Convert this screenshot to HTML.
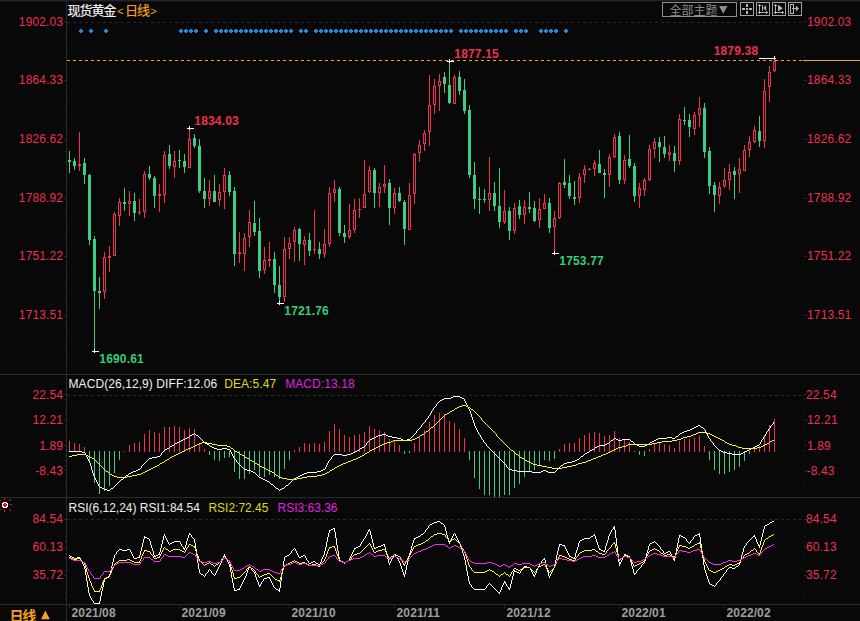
<!DOCTYPE html><html><head><meta charset="utf-8"><title>chart</title><style>html,body{margin:0;padding:0;background:#080808;overflow:hidden}body{width:860px;height:621px;font-family:"Liberation Sans",sans-serif}</style></head><body><svg width="860" height="621" viewBox="0 0 860 621" style="display:block"><rect width="860" height="621" fill="#080808"/><rect x="0" y="0" width="860" height="1" fill="#22242a"/><rect x="0" y="1" width="860" height="1" fill="#101114"/><g shape-rendering="crispEdges"><rect x="0" y="374" width="860" height="1" fill="#2a2a2a"/><rect x="0" y="497" width="860" height="1" fill="#2a2a2a"/><rect x="0" y="604" width="860" height="1" fill="#2a2a2a"/><rect x="66" y="1" width="1" height="620" fill="#2a2a2a"/><line x1="67" y1="22.5" x2="803" y2="22.5" stroke="#292929" stroke-width="1" stroke-dasharray="3 3"/><line x1="67" y1="395.5" x2="803" y2="395.5" stroke="#292929" stroke-width="1" stroke-dasharray="3 3"/><line x1="67" y1="519.5" x2="803" y2="519.5" stroke="#292929" stroke-width="1" stroke-dasharray="3 3"/><rect x="64" y="21" width="2" height="1" fill="#2a2a2a"/><rect x="804" y="21" width="3" height="1" fill="#2a2a2a"/><rect x="65" y="33" width="1" height="1" fill="#2a2a2a"/><rect x="804" y="33" width="1" height="1" fill="#2a2a2a"/><rect x="65" y="45" width="1" height="1" fill="#2a2a2a"/><rect x="804" y="45" width="1" height="1" fill="#2a2a2a"/><rect x="65" y="57" width="1" height="1" fill="#2a2a2a"/><rect x="804" y="57" width="1" height="1" fill="#2a2a2a"/><rect x="65" y="68" width="1" height="1" fill="#2a2a2a"/><rect x="804" y="68" width="1" height="1" fill="#2a2a2a"/><rect x="64" y="80" width="2" height="1" fill="#2a2a2a"/><rect x="804" y="80" width="3" height="1" fill="#2a2a2a"/><rect x="65" y="92" width="1" height="1" fill="#2a2a2a"/><rect x="804" y="92" width="1" height="1" fill="#2a2a2a"/><rect x="65" y="104" width="1" height="1" fill="#2a2a2a"/><rect x="804" y="104" width="1" height="1" fill="#2a2a2a"/><rect x="65" y="115" width="1" height="1" fill="#2a2a2a"/><rect x="804" y="115" width="1" height="1" fill="#2a2a2a"/><rect x="65" y="127" width="1" height="1" fill="#2a2a2a"/><rect x="804" y="127" width="1" height="1" fill="#2a2a2a"/><rect x="64" y="139" width="2" height="1" fill="#2a2a2a"/><rect x="804" y="139" width="3" height="1" fill="#2a2a2a"/><rect x="65" y="151" width="1" height="1" fill="#2a2a2a"/><rect x="804" y="151" width="1" height="1" fill="#2a2a2a"/><rect x="65" y="162" width="1" height="1" fill="#2a2a2a"/><rect x="804" y="162" width="1" height="1" fill="#2a2a2a"/><rect x="65" y="174" width="1" height="1" fill="#2a2a2a"/><rect x="804" y="174" width="1" height="1" fill="#2a2a2a"/><rect x="65" y="186" width="1" height="1" fill="#2a2a2a"/><rect x="804" y="186" width="1" height="1" fill="#2a2a2a"/><rect x="64" y="198" width="2" height="1" fill="#2a2a2a"/><rect x="804" y="198" width="3" height="1" fill="#2a2a2a"/><rect x="65" y="209" width="1" height="1" fill="#2a2a2a"/><rect x="804" y="209" width="1" height="1" fill="#2a2a2a"/><rect x="65" y="221" width="1" height="1" fill="#2a2a2a"/><rect x="804" y="221" width="1" height="1" fill="#2a2a2a"/><rect x="65" y="233" width="1" height="1" fill="#2a2a2a"/><rect x="804" y="233" width="1" height="1" fill="#2a2a2a"/><rect x="65" y="245" width="1" height="1" fill="#2a2a2a"/><rect x="804" y="245" width="1" height="1" fill="#2a2a2a"/><rect x="64" y="256" width="2" height="1" fill="#2a2a2a"/><rect x="804" y="256" width="3" height="1" fill="#2a2a2a"/><rect x="65" y="268" width="1" height="1" fill="#2a2a2a"/><rect x="804" y="268" width="1" height="1" fill="#2a2a2a"/><rect x="65" y="280" width="1" height="1" fill="#2a2a2a"/><rect x="804" y="280" width="1" height="1" fill="#2a2a2a"/><rect x="65" y="292" width="1" height="1" fill="#2a2a2a"/><rect x="804" y="292" width="1" height="1" fill="#2a2a2a"/><rect x="65" y="303" width="1" height="1" fill="#2a2a2a"/><rect x="804" y="303" width="1" height="1" fill="#2a2a2a"/><rect x="64" y="315" width="2" height="1" fill="#2a2a2a"/><rect x="804" y="315" width="3" height="1" fill="#2a2a2a"/><rect x="65" y="327" width="1" height="1" fill="#2a2a2a"/><rect x="804" y="327" width="1" height="1" fill="#2a2a2a"/><rect x="65" y="339" width="1" height="1" fill="#2a2a2a"/><rect x="804" y="339" width="1" height="1" fill="#2a2a2a"/><rect x="65" y="350" width="1" height="1" fill="#2a2a2a"/><rect x="804" y="350" width="1" height="1" fill="#2a2a2a"/><rect x="65" y="362" width="1" height="1" fill="#2a2a2a"/><rect x="804" y="362" width="1" height="1" fill="#2a2a2a"/><rect x="64" y="394" width="2" height="1" fill="#2a2a2a"/><rect x="804" y="394" width="3" height="1" fill="#2a2a2a"/><rect x="65" y="399" width="1" height="1" fill="#2a2a2a"/><rect x="804" y="399" width="1" height="1" fill="#2a2a2a"/><rect x="65" y="404" width="1" height="1" fill="#2a2a2a"/><rect x="804" y="404" width="1" height="1" fill="#2a2a2a"/><rect x="65" y="409" width="1" height="1" fill="#2a2a2a"/><rect x="804" y="409" width="1" height="1" fill="#2a2a2a"/><rect x="65" y="414" width="1" height="1" fill="#2a2a2a"/><rect x="804" y="414" width="1" height="1" fill="#2a2a2a"/><rect x="64" y="420" width="2" height="1" fill="#2a2a2a"/><rect x="804" y="420" width="3" height="1" fill="#2a2a2a"/><rect x="65" y="425" width="1" height="1" fill="#2a2a2a"/><rect x="804" y="425" width="1" height="1" fill="#2a2a2a"/><rect x="65" y="430" width="1" height="1" fill="#2a2a2a"/><rect x="804" y="430" width="1" height="1" fill="#2a2a2a"/><rect x="65" y="435" width="1" height="1" fill="#2a2a2a"/><rect x="804" y="435" width="1" height="1" fill="#2a2a2a"/><rect x="65" y="440" width="1" height="1" fill="#2a2a2a"/><rect x="804" y="440" width="1" height="1" fill="#2a2a2a"/><rect x="64" y="445" width="2" height="1" fill="#2a2a2a"/><rect x="804" y="445" width="3" height="1" fill="#2a2a2a"/><rect x="65" y="450" width="1" height="1" fill="#2a2a2a"/><rect x="804" y="450" width="1" height="1" fill="#2a2a2a"/><rect x="65" y="455" width="1" height="1" fill="#2a2a2a"/><rect x="804" y="455" width="1" height="1" fill="#2a2a2a"/><rect x="65" y="460" width="1" height="1" fill="#2a2a2a"/><rect x="804" y="460" width="1" height="1" fill="#2a2a2a"/><rect x="65" y="465" width="1" height="1" fill="#2a2a2a"/><rect x="804" y="465" width="1" height="1" fill="#2a2a2a"/><rect x="64" y="470" width="2" height="1" fill="#2a2a2a"/><rect x="804" y="470" width="3" height="1" fill="#2a2a2a"/><rect x="65" y="475" width="1" height="1" fill="#2a2a2a"/><rect x="804" y="475" width="1" height="1" fill="#2a2a2a"/><rect x="65" y="481" width="1" height="1" fill="#2a2a2a"/><rect x="804" y="481" width="1" height="1" fill="#2a2a2a"/><rect x="65" y="486" width="1" height="1" fill="#2a2a2a"/><rect x="804" y="486" width="1" height="1" fill="#2a2a2a"/><rect x="65" y="491" width="1" height="1" fill="#2a2a2a"/><rect x="804" y="491" width="1" height="1" fill="#2a2a2a"/><rect x="64" y="519" width="2" height="1" fill="#2a2a2a"/><rect x="804" y="519" width="3" height="1" fill="#2a2a2a"/><rect x="65" y="524" width="1" height="1" fill="#2a2a2a"/><rect x="804" y="524" width="1" height="1" fill="#2a2a2a"/><rect x="65" y="530" width="1" height="1" fill="#2a2a2a"/><rect x="804" y="530" width="1" height="1" fill="#2a2a2a"/><rect x="65" y="536" width="1" height="1" fill="#2a2a2a"/><rect x="804" y="536" width="1" height="1" fill="#2a2a2a"/><rect x="65" y="541" width="1" height="1" fill="#2a2a2a"/><rect x="804" y="541" width="1" height="1" fill="#2a2a2a"/><rect x="64" y="547" width="2" height="1" fill="#2a2a2a"/><rect x="804" y="547" width="3" height="1" fill="#2a2a2a"/><rect x="65" y="553" width="1" height="1" fill="#2a2a2a"/><rect x="804" y="553" width="1" height="1" fill="#2a2a2a"/><rect x="65" y="558" width="1" height="1" fill="#2a2a2a"/><rect x="804" y="558" width="1" height="1" fill="#2a2a2a"/><rect x="65" y="564" width="1" height="1" fill="#2a2a2a"/><rect x="804" y="564" width="1" height="1" fill="#2a2a2a"/><rect x="65" y="570" width="1" height="1" fill="#2a2a2a"/><rect x="804" y="570" width="1" height="1" fill="#2a2a2a"/><rect x="64" y="575" width="2" height="1" fill="#2a2a2a"/><rect x="804" y="575" width="3" height="1" fill="#2a2a2a"/><rect x="65" y="581" width="1" height="1" fill="#2a2a2a"/><rect x="804" y="581" width="1" height="1" fill="#2a2a2a"/><rect x="65" y="587" width="1" height="1" fill="#2a2a2a"/><rect x="804" y="587" width="1" height="1" fill="#2a2a2a"/><rect x="65" y="592" width="1" height="1" fill="#2a2a2a"/><rect x="804" y="592" width="1" height="1" fill="#2a2a2a"/><rect x="65" y="598" width="1" height="1" fill="#2a2a2a"/><rect x="804" y="598" width="1" height="1" fill="#2a2a2a"/><line x1="67" y1="60.5" x2="803" y2="60.5" stroke="#f5a028" stroke-width="1" stroke-dasharray="3 3"/><rect x="803" y="60" width="57" height="1" fill="#f5a028"/><rect x="69" y="151" width="1" height="22" fill="#3ccd87"/><rect x="68" y="160" width="3" height="2" fill="#3ccd87"/><rect x="74" y="158" width="1" height="12" fill="#3ccd87"/><rect x="73" y="161" width="3" height="5" fill="#3ccd87"/><rect x="79" y="132" width="1" height="32" fill="#f23050"/><rect x="79" y="166" width="1" height="5" fill="#f23050"/><rect x="78" y="164" width="3" height="2" fill="#f23050"/><rect x="84" y="158" width="1" height="26" fill="#3ccd87"/><rect x="83" y="163" width="3" height="12" fill="#3ccd87"/><rect x="89" y="174" width="1" height="71" fill="#3ccd87"/><rect x="88" y="175" width="3" height="65" fill="#3ccd87"/><rect x="94" y="236" width="1" height="115" fill="#3ccd87"/><rect x="93" y="239" width="3" height="52" fill="#3ccd87"/><rect x="99" y="277" width="1" height="32" fill="#3ccd87"/><rect x="98" y="291" width="3" height="2" fill="#3ccd87"/><rect x="104" y="252" width="1" height="5" fill="#f23050"/><rect x="104" y="292" width="1" height="7" fill="#f23050"/><rect x="103" y="257" width="3" height="1" fill="#f23050"/><rect x="103" y="291" width="3" height="1" fill="#f23050"/><rect x="103" y="257" width="1" height="35" fill="#f23050"/><rect x="105" y="257" width="1" height="35" fill="#f23050"/><rect x="109" y="246" width="1" height="10" fill="#f23050"/><rect x="109" y="258" width="1" height="14" fill="#f23050"/><rect x="108" y="256" width="3" height="2" fill="#f23050"/><rect x="114" y="212" width="1" height="2" fill="#f23050"/><rect x="113" y="214" width="3" height="1" fill="#f23050"/><rect x="113" y="255" width="3" height="1" fill="#f23050"/><rect x="113" y="214" width="1" height="42" fill="#f23050"/><rect x="115" y="214" width="1" height="42" fill="#f23050"/><rect x="119" y="198" width="1" height="4" fill="#f23050"/><rect x="119" y="216" width="1" height="10" fill="#f23050"/><rect x="118" y="202" width="3" height="1" fill="#f23050"/><rect x="118" y="215" width="3" height="1" fill="#f23050"/><rect x="118" y="202" width="1" height="14" fill="#f23050"/><rect x="120" y="202" width="1" height="14" fill="#f23050"/><rect x="124" y="188" width="1" height="23" fill="#3ccd87"/><rect x="123" y="202" width="3" height="2" fill="#3ccd87"/><rect x="129" y="191" width="1" height="10" fill="#f23050"/><rect x="129" y="204" width="1" height="12" fill="#f23050"/><rect x="128" y="201" width="3" height="1" fill="#f23050"/><rect x="128" y="203" width="3" height="1" fill="#f23050"/><rect x="128" y="201" width="1" height="3" fill="#f23050"/><rect x="130" y="201" width="1" height="3" fill="#f23050"/><rect x="134" y="193" width="1" height="28" fill="#3ccd87"/><rect x="133" y="201" width="3" height="12" fill="#3ccd87"/><rect x="139" y="199" width="1" height="13" fill="#f23050"/><rect x="139" y="213" width="1" height="2" fill="#f23050"/><rect x="138" y="212" width="3" height="1" fill="#f23050"/><rect x="144" y="171" width="1" height="3" fill="#f23050"/><rect x="144" y="212" width="1" height="6" fill="#f23050"/><rect x="143" y="174" width="3" height="1" fill="#f23050"/><rect x="143" y="211" width="3" height="1" fill="#f23050"/><rect x="143" y="174" width="1" height="38" fill="#f23050"/><rect x="145" y="174" width="1" height="38" fill="#f23050"/><rect x="149" y="166" width="1" height="14" fill="#3ccd87"/><rect x="148" y="174" width="3" height="4" fill="#3ccd87"/><rect x="154" y="176" width="1" height="32" fill="#3ccd87"/><rect x="153" y="178" width="3" height="18" fill="#3ccd87"/><rect x="159" y="184" width="1" height="10" fill="#f23050"/><rect x="159" y="196" width="1" height="16" fill="#f23050"/><rect x="158" y="194" width="3" height="2" fill="#f23050"/><rect x="164" y="151" width="1" height="4" fill="#f23050"/><rect x="164" y="195" width="1" height="8" fill="#f23050"/><rect x="163" y="155" width="3" height="1" fill="#f23050"/><rect x="163" y="194" width="3" height="1" fill="#f23050"/><rect x="163" y="155" width="1" height="40" fill="#f23050"/><rect x="165" y="155" width="1" height="40" fill="#f23050"/><rect x="169" y="145" width="1" height="24" fill="#3ccd87"/><rect x="168" y="154" width="3" height="12" fill="#3ccd87"/><rect x="174" y="151" width="1" height="10" fill="#f23050"/><rect x="174" y="167" width="1" height="11" fill="#f23050"/><rect x="173" y="161" width="3" height="1" fill="#f23050"/><rect x="173" y="166" width="3" height="1" fill="#f23050"/><rect x="173" y="161" width="1" height="6" fill="#f23050"/><rect x="175" y="161" width="1" height="6" fill="#f23050"/><rect x="179" y="150" width="1" height="18" fill="#3ccd87"/><rect x="178" y="160" width="3" height="1" fill="#3ccd87"/><rect x="184" y="154" width="1" height="19" fill="#3ccd87"/><rect x="183" y="161" width="3" height="6" fill="#3ccd87"/><rect x="189" y="130" width="1" height="9" fill="#f23050"/><rect x="188" y="139" width="3" height="1" fill="#f23050"/><rect x="188" y="167" width="3" height="1" fill="#f23050"/><rect x="188" y="139" width="1" height="29" fill="#f23050"/><rect x="190" y="139" width="1" height="29" fill="#f23050"/><rect x="194" y="134" width="1" height="14" fill="#3ccd87"/><rect x="193" y="138" width="3" height="8" fill="#3ccd87"/><rect x="199" y="139" width="1" height="54" fill="#3ccd87"/><rect x="198" y="146" width="3" height="45" fill="#3ccd87"/><rect x="204" y="178" width="1" height="30" fill="#3ccd87"/><rect x="203" y="191" width="3" height="8" fill="#3ccd87"/><rect x="209" y="180" width="1" height="11" fill="#f23050"/><rect x="209" y="199" width="1" height="7" fill="#f23050"/><rect x="208" y="191" width="3" height="1" fill="#f23050"/><rect x="208" y="198" width="3" height="1" fill="#f23050"/><rect x="208" y="191" width="1" height="8" fill="#f23050"/><rect x="210" y="191" width="1" height="8" fill="#f23050"/><rect x="214" y="175" width="1" height="27" fill="#3ccd87"/><rect x="213" y="191" width="3" height="11" fill="#3ccd87"/><rect x="219" y="184" width="1" height="8" fill="#f23050"/><rect x="219" y="200" width="1" height="6" fill="#f23050"/><rect x="218" y="192" width="3" height="1" fill="#f23050"/><rect x="218" y="199" width="3" height="1" fill="#f23050"/><rect x="218" y="192" width="1" height="8" fill="#f23050"/><rect x="220" y="192" width="1" height="8" fill="#f23050"/><rect x="224" y="168" width="1" height="7" fill="#f23050"/><rect x="224" y="192" width="1" height="17" fill="#f23050"/><rect x="223" y="175" width="3" height="1" fill="#f23050"/><rect x="223" y="191" width="3" height="1" fill="#f23050"/><rect x="223" y="175" width="1" height="17" fill="#f23050"/><rect x="225" y="175" width="1" height="17" fill="#f23050"/><rect x="229" y="171" width="1" height="25" fill="#3ccd87"/><rect x="228" y="175" width="3" height="17" fill="#3ccd87"/><rect x="234" y="187" width="1" height="79" fill="#3ccd87"/><rect x="233" y="191" width="3" height="63" fill="#3ccd87"/><rect x="239" y="232" width="1" height="20" fill="#f23050"/><rect x="239" y="254" width="1" height="9" fill="#f23050"/><rect x="238" y="252" width="3" height="2" fill="#f23050"/><rect x="244" y="233" width="1" height="5" fill="#f23050"/><rect x="244" y="254" width="1" height="17" fill="#f23050"/><rect x="243" y="238" width="3" height="1" fill="#f23050"/><rect x="243" y="253" width="3" height="1" fill="#f23050"/><rect x="243" y="238" width="1" height="16" fill="#f23050"/><rect x="245" y="238" width="1" height="16" fill="#f23050"/><rect x="249" y="210" width="1" height="12" fill="#f23050"/><rect x="249" y="237" width="1" height="10" fill="#f23050"/><rect x="248" y="222" width="3" height="1" fill="#f23050"/><rect x="248" y="236" width="3" height="1" fill="#f23050"/><rect x="248" y="222" width="1" height="15" fill="#f23050"/><rect x="250" y="222" width="1" height="15" fill="#f23050"/><rect x="254" y="201" width="1" height="35" fill="#3ccd87"/><rect x="253" y="223" width="3" height="9" fill="#3ccd87"/><rect x="259" y="218" width="1" height="60" fill="#3ccd87"/><rect x="258" y="231" width="3" height="40" fill="#3ccd87"/><rect x="264" y="247" width="1" height="13" fill="#f23050"/><rect x="264" y="270" width="1" height="4" fill="#f23050"/><rect x="263" y="260" width="3" height="1" fill="#f23050"/><rect x="263" y="269" width="3" height="1" fill="#f23050"/><rect x="263" y="260" width="1" height="10" fill="#f23050"/><rect x="265" y="260" width="1" height="10" fill="#f23050"/><rect x="269" y="242" width="1" height="17" fill="#f23050"/><rect x="269" y="261" width="1" height="6" fill="#f23050"/><rect x="268" y="259" width="3" height="2" fill="#f23050"/><rect x="274" y="252" width="1" height="41" fill="#3ccd87"/><rect x="273" y="259" width="3" height="26" fill="#3ccd87"/><rect x="279" y="266" width="1" height="37" fill="#3ccd87"/><rect x="278" y="285" width="3" height="12" fill="#3ccd87"/><rect x="284" y="237" width="1" height="12" fill="#f23050"/><rect x="284" y="297" width="1" height="5" fill="#f23050"/><rect x="283" y="249" width="3" height="1" fill="#f23050"/><rect x="283" y="296" width="3" height="1" fill="#f23050"/><rect x="283" y="249" width="1" height="48" fill="#f23050"/><rect x="285" y="249" width="1" height="48" fill="#f23050"/><rect x="289" y="237" width="1" height="6" fill="#f23050"/><rect x="289" y="249" width="1" height="10" fill="#f23050"/><rect x="288" y="243" width="3" height="1" fill="#f23050"/><rect x="288" y="248" width="3" height="1" fill="#f23050"/><rect x="288" y="243" width="1" height="6" fill="#f23050"/><rect x="290" y="243" width="1" height="6" fill="#f23050"/><rect x="294" y="227" width="1" height="3" fill="#f23050"/><rect x="294" y="242" width="1" height="20" fill="#f23050"/><rect x="293" y="230" width="3" height="1" fill="#f23050"/><rect x="293" y="241" width="3" height="1" fill="#f23050"/><rect x="293" y="230" width="1" height="12" fill="#f23050"/><rect x="295" y="230" width="1" height="12" fill="#f23050"/><rect x="299" y="228" width="1" height="33" fill="#3ccd87"/><rect x="298" y="229" width="3" height="15" fill="#3ccd87"/><rect x="304" y="236" width="1" height="4" fill="#f23050"/><rect x="304" y="245" width="1" height="20" fill="#f23050"/><rect x="303" y="240" width="3" height="1" fill="#f23050"/><rect x="303" y="244" width="3" height="1" fill="#f23050"/><rect x="303" y="240" width="1" height="5" fill="#f23050"/><rect x="305" y="240" width="1" height="5" fill="#f23050"/><rect x="309" y="233" width="1" height="23" fill="#3ccd87"/><rect x="308" y="240" width="3" height="11" fill="#3ccd87"/><rect x="314" y="210" width="1" height="39" fill="#f23050"/><rect x="314" y="250" width="1" height="4" fill="#f23050"/><rect x="313" y="249" width="3" height="1" fill="#f23050"/><rect x="319" y="242" width="1" height="17" fill="#3ccd87"/><rect x="318" y="249" width="3" height="5" fill="#3ccd87"/><rect x="324" y="229" width="1" height="15" fill="#f23050"/><rect x="324" y="254" width="1" height="4" fill="#f23050"/><rect x="323" y="244" width="3" height="1" fill="#f23050"/><rect x="323" y="253" width="3" height="1" fill="#f23050"/><rect x="323" y="244" width="1" height="10" fill="#f23050"/><rect x="325" y="244" width="1" height="10" fill="#f23050"/><rect x="329" y="187" width="1" height="6" fill="#f23050"/><rect x="329" y="244" width="1" height="3" fill="#f23050"/><rect x="328" y="193" width="3" height="1" fill="#f23050"/><rect x="328" y="243" width="3" height="1" fill="#f23050"/><rect x="328" y="193" width="1" height="51" fill="#f23050"/><rect x="330" y="193" width="1" height="51" fill="#f23050"/><rect x="334" y="180" width="1" height="9" fill="#f23050"/><rect x="334" y="193" width="1" height="9" fill="#f23050"/><rect x="333" y="189" width="3" height="1" fill="#f23050"/><rect x="333" y="192" width="3" height="1" fill="#f23050"/><rect x="333" y="189" width="1" height="4" fill="#f23050"/><rect x="335" y="189" width="1" height="4" fill="#f23050"/><rect x="339" y="187" width="1" height="49" fill="#3ccd87"/><rect x="338" y="189" width="3" height="44" fill="#3ccd87"/><rect x="344" y="225" width="1" height="18" fill="#3ccd87"/><rect x="343" y="233" width="3" height="4" fill="#3ccd87"/><rect x="349" y="204" width="1" height="26" fill="#f23050"/><rect x="349" y="237" width="1" height="2" fill="#f23050"/><rect x="348" y="230" width="3" height="1" fill="#f23050"/><rect x="348" y="236" width="3" height="1" fill="#f23050"/><rect x="348" y="230" width="1" height="7" fill="#f23050"/><rect x="350" y="230" width="1" height="7" fill="#f23050"/><rect x="354" y="199" width="1" height="11" fill="#f23050"/><rect x="354" y="230" width="1" height="3" fill="#f23050"/><rect x="353" y="210" width="3" height="1" fill="#f23050"/><rect x="353" y="229" width="3" height="1" fill="#f23050"/><rect x="353" y="210" width="1" height="20" fill="#f23050"/><rect x="355" y="210" width="1" height="20" fill="#f23050"/><rect x="359" y="198" width="1" height="11" fill="#f23050"/><rect x="359" y="210" width="1" height="8" fill="#f23050"/><rect x="358" y="209" width="3" height="1" fill="#f23050"/><rect x="364" y="160" width="1" height="34" fill="#f23050"/><rect x="363" y="194" width="3" height="1" fill="#f23050"/><rect x="363" y="207" width="3" height="1" fill="#f23050"/><rect x="363" y="194" width="1" height="14" fill="#f23050"/><rect x="365" y="194" width="1" height="14" fill="#f23050"/><rect x="369" y="166" width="1" height="4" fill="#f23050"/><rect x="369" y="192" width="1" height="1" fill="#f23050"/><rect x="368" y="170" width="3" height="1" fill="#f23050"/><rect x="368" y="191" width="3" height="1" fill="#f23050"/><rect x="368" y="170" width="1" height="22" fill="#f23050"/><rect x="370" y="170" width="1" height="22" fill="#f23050"/><rect x="374" y="168" width="1" height="40" fill="#3ccd87"/><rect x="373" y="170" width="3" height="23" fill="#3ccd87"/><rect x="379" y="183" width="1" height="4" fill="#f23050"/><rect x="379" y="193" width="1" height="14" fill="#f23050"/><rect x="378" y="187" width="3" height="1" fill="#f23050"/><rect x="378" y="192" width="3" height="1" fill="#f23050"/><rect x="378" y="187" width="1" height="6" fill="#f23050"/><rect x="380" y="187" width="1" height="6" fill="#f23050"/><rect x="384" y="165" width="1" height="19" fill="#f23050"/><rect x="384" y="187" width="1" height="6" fill="#f23050"/><rect x="383" y="184" width="3" height="1" fill="#f23050"/><rect x="383" y="186" width="3" height="1" fill="#f23050"/><rect x="383" y="184" width="1" height="3" fill="#f23050"/><rect x="385" y="184" width="1" height="3" fill="#f23050"/><rect x="389" y="179" width="1" height="46" fill="#3ccd87"/><rect x="388" y="183" width="3" height="25" fill="#3ccd87"/><rect x="394" y="188" width="1" height="5" fill="#f23050"/><rect x="394" y="208" width="1" height="6" fill="#f23050"/><rect x="393" y="193" width="3" height="1" fill="#f23050"/><rect x="393" y="207" width="3" height="1" fill="#f23050"/><rect x="393" y="193" width="1" height="15" fill="#f23050"/><rect x="395" y="193" width="1" height="15" fill="#f23050"/><rect x="399" y="187" width="1" height="15" fill="#3ccd87"/><rect x="398" y="193" width="3" height="8" fill="#3ccd87"/><rect x="404" y="200" width="1" height="45" fill="#3ccd87"/><rect x="403" y="202" width="3" height="27" fill="#3ccd87"/><rect x="409" y="183" width="1" height="12" fill="#f23050"/><rect x="408" y="195" width="3" height="1" fill="#f23050"/><rect x="408" y="229" width="3" height="1" fill="#f23050"/><rect x="408" y="195" width="1" height="35" fill="#f23050"/><rect x="410" y="195" width="1" height="35" fill="#f23050"/><rect x="414" y="153" width="1" height="1" fill="#f23050"/><rect x="414" y="194" width="1" height="10" fill="#f23050"/><rect x="413" y="154" width="3" height="1" fill="#f23050"/><rect x="413" y="193" width="3" height="1" fill="#f23050"/><rect x="413" y="154" width="1" height="40" fill="#f23050"/><rect x="415" y="154" width="1" height="40" fill="#f23050"/><rect x="419" y="140" width="1" height="5" fill="#f23050"/><rect x="419" y="153" width="1" height="9" fill="#f23050"/><rect x="418" y="145" width="3" height="1" fill="#f23050"/><rect x="418" y="152" width="3" height="1" fill="#f23050"/><rect x="418" y="145" width="1" height="8" fill="#f23050"/><rect x="420" y="145" width="1" height="8" fill="#f23050"/><rect x="424" y="130" width="1" height="3" fill="#f23050"/><rect x="424" y="144" width="1" height="7" fill="#f23050"/><rect x="423" y="133" width="3" height="1" fill="#f23050"/><rect x="423" y="143" width="3" height="1" fill="#f23050"/><rect x="423" y="133" width="1" height="11" fill="#f23050"/><rect x="425" y="133" width="1" height="11" fill="#f23050"/><rect x="429" y="75" width="1" height="30" fill="#f23050"/><rect x="429" y="132" width="1" height="14" fill="#f23050"/><rect x="428" y="105" width="3" height="1" fill="#f23050"/><rect x="428" y="131" width="3" height="1" fill="#f23050"/><rect x="428" y="105" width="1" height="27" fill="#f23050"/><rect x="430" y="105" width="1" height="27" fill="#f23050"/><rect x="434" y="79" width="1" height="7" fill="#f23050"/><rect x="434" y="105" width="1" height="9" fill="#f23050"/><rect x="433" y="86" width="3" height="1" fill="#f23050"/><rect x="433" y="104" width="3" height="1" fill="#f23050"/><rect x="433" y="86" width="1" height="19" fill="#f23050"/><rect x="435" y="86" width="1" height="19" fill="#f23050"/><rect x="439" y="74" width="1" height="7" fill="#f23050"/><rect x="439" y="86" width="1" height="25" fill="#f23050"/><rect x="438" y="81" width="3" height="1" fill="#f23050"/><rect x="438" y="85" width="3" height="1" fill="#f23050"/><rect x="438" y="81" width="1" height="5" fill="#f23050"/><rect x="440" y="81" width="1" height="5" fill="#f23050"/><rect x="444" y="72" width="1" height="21" fill="#3ccd87"/><rect x="443" y="77" width="3" height="7" fill="#3ccd87"/><rect x="449" y="63" width="1" height="41" fill="#3ccd87"/><rect x="448" y="85" width="3" height="18" fill="#3ccd87"/><rect x="454" y="75" width="1" height="2" fill="#f23050"/><rect x="453" y="77" width="3" height="1" fill="#f23050"/><rect x="453" y="103" width="3" height="1" fill="#f23050"/><rect x="453" y="77" width="1" height="27" fill="#f23050"/><rect x="455" y="77" width="1" height="27" fill="#f23050"/><rect x="459" y="71" width="1" height="24" fill="#3ccd87"/><rect x="458" y="77" width="3" height="14" fill="#3ccd87"/><rect x="464" y="79" width="1" height="35" fill="#3ccd87"/><rect x="463" y="90" width="3" height="21" fill="#3ccd87"/><rect x="469" y="105" width="1" height="73" fill="#3ccd87"/><rect x="468" y="110" width="3" height="65" fill="#3ccd87"/><rect x="474" y="162" width="1" height="47" fill="#3ccd87"/><rect x="473" y="175" width="3" height="24" fill="#3ccd87"/><rect x="479" y="187" width="1" height="27" fill="#3ccd87"/><rect x="478" y="199" width="3" height="1" fill="#3ccd87"/><rect x="484" y="189" width="1" height="14" fill="#3ccd87"/><rect x="483" y="199" width="3" height="1" fill="#3ccd87"/><rect x="489" y="157" width="1" height="36" fill="#f23050"/><rect x="489" y="200" width="1" height="11" fill="#f23050"/><rect x="488" y="193" width="3" height="1" fill="#f23050"/><rect x="488" y="199" width="3" height="1" fill="#f23050"/><rect x="488" y="193" width="1" height="7" fill="#f23050"/><rect x="490" y="193" width="1" height="7" fill="#f23050"/><rect x="494" y="182" width="1" height="29" fill="#3ccd87"/><rect x="493" y="193" width="3" height="13" fill="#3ccd87"/><rect x="499" y="168" width="1" height="60" fill="#3ccd87"/><rect x="498" y="206" width="3" height="16" fill="#3ccd87"/><rect x="504" y="190" width="1" height="21" fill="#f23050"/><rect x="504" y="222" width="1" height="2" fill="#f23050"/><rect x="503" y="211" width="3" height="1" fill="#f23050"/><rect x="503" y="221" width="3" height="1" fill="#f23050"/><rect x="503" y="211" width="1" height="11" fill="#f23050"/><rect x="505" y="211" width="1" height="11" fill="#f23050"/><rect x="509" y="207" width="1" height="33" fill="#3ccd87"/><rect x="508" y="211" width="3" height="20" fill="#3ccd87"/><rect x="514" y="203" width="1" height="5" fill="#f23050"/><rect x="514" y="231" width="1" height="3" fill="#f23050"/><rect x="513" y="208" width="3" height="1" fill="#f23050"/><rect x="513" y="230" width="3" height="1" fill="#f23050"/><rect x="513" y="208" width="1" height="23" fill="#f23050"/><rect x="515" y="208" width="1" height="23" fill="#f23050"/><rect x="519" y="200" width="1" height="19" fill="#3ccd87"/><rect x="518" y="206" width="3" height="9" fill="#3ccd87"/><rect x="524" y="200" width="1" height="7" fill="#f23050"/><rect x="524" y="215" width="1" height="9" fill="#f23050"/><rect x="523" y="207" width="3" height="1" fill="#f23050"/><rect x="523" y="214" width="3" height="1" fill="#f23050"/><rect x="523" y="207" width="1" height="8" fill="#f23050"/><rect x="525" y="207" width="1" height="8" fill="#f23050"/><rect x="529" y="192" width="1" height="21" fill="#3ccd87"/><rect x="528" y="207" width="3" height="2" fill="#3ccd87"/><rect x="534" y="201" width="1" height="21" fill="#3ccd87"/><rect x="533" y="208" width="3" height="13" fill="#3ccd87"/><rect x="539" y="198" width="1" height="11" fill="#f23050"/><rect x="539" y="220" width="1" height="8" fill="#f23050"/><rect x="538" y="209" width="3" height="1" fill="#f23050"/><rect x="538" y="219" width="3" height="1" fill="#f23050"/><rect x="538" y="209" width="1" height="11" fill="#f23050"/><rect x="540" y="209" width="1" height="11" fill="#f23050"/><rect x="544" y="194" width="1" height="9" fill="#f23050"/><rect x="543" y="203" width="3" height="1" fill="#f23050"/><rect x="543" y="208" width="3" height="1" fill="#f23050"/><rect x="543" y="203" width="1" height="6" fill="#f23050"/><rect x="545" y="203" width="1" height="6" fill="#f23050"/><rect x="549" y="198" width="1" height="35" fill="#3ccd87"/><rect x="548" y="203" width="3" height="25" fill="#3ccd87"/><rect x="554" y="211" width="1" height="7" fill="#f23050"/><rect x="554" y="227" width="1" height="26" fill="#f23050"/><rect x="553" y="218" width="3" height="1" fill="#f23050"/><rect x="553" y="226" width="3" height="1" fill="#f23050"/><rect x="553" y="218" width="1" height="9" fill="#f23050"/><rect x="555" y="218" width="1" height="9" fill="#f23050"/><rect x="559" y="182" width="1" height="1" fill="#f23050"/><rect x="559" y="218" width="1" height="1" fill="#f23050"/><rect x="558" y="183" width="3" height="1" fill="#f23050"/><rect x="558" y="217" width="3" height="1" fill="#f23050"/><rect x="558" y="183" width="1" height="35" fill="#f23050"/><rect x="560" y="183" width="1" height="35" fill="#f23050"/><rect x="564" y="159" width="1" height="29" fill="#3ccd87"/><rect x="563" y="182" width="3" height="3" fill="#3ccd87"/><rect x="569" y="175" width="1" height="24" fill="#3ccd87"/><rect x="568" y="183" width="3" height="13" fill="#3ccd87"/><rect x="574" y="181" width="1" height="24" fill="#3ccd87"/><rect x="573" y="197" width="3" height="2" fill="#3ccd87"/><rect x="579" y="173" width="1" height="4" fill="#f23050"/><rect x="579" y="198" width="1" height="5" fill="#f23050"/><rect x="578" y="177" width="3" height="1" fill="#f23050"/><rect x="578" y="197" width="3" height="1" fill="#f23050"/><rect x="578" y="177" width="1" height="21" fill="#f23050"/><rect x="580" y="177" width="1" height="21" fill="#f23050"/><rect x="584" y="165" width="1" height="4" fill="#f23050"/><rect x="584" y="175" width="1" height="8" fill="#f23050"/><rect x="583" y="169" width="3" height="1" fill="#f23050"/><rect x="583" y="174" width="3" height="1" fill="#f23050"/><rect x="583" y="169" width="1" height="6" fill="#f23050"/><rect x="585" y="169" width="1" height="6" fill="#f23050"/><rect x="589" y="168" width="1" height="1" fill="#f23050"/><rect x="588" y="169" width="3" height="1" fill="#f23050"/><rect x="594" y="160" width="1" height="3" fill="#f23050"/><rect x="594" y="169" width="1" height="7" fill="#f23050"/><rect x="593" y="163" width="3" height="1" fill="#f23050"/><rect x="593" y="168" width="3" height="1" fill="#f23050"/><rect x="593" y="163" width="1" height="6" fill="#f23050"/><rect x="595" y="163" width="1" height="6" fill="#f23050"/><rect x="599" y="150" width="1" height="23" fill="#3ccd87"/><rect x="598" y="164" width="3" height="9" fill="#3ccd87"/><rect x="604" y="169" width="1" height="29" fill="#3ccd87"/><rect x="603" y="173" width="3" height="2" fill="#3ccd87"/><rect x="609" y="154" width="1" height="3" fill="#f23050"/><rect x="609" y="175" width="1" height="12" fill="#f23050"/><rect x="608" y="157" width="3" height="1" fill="#f23050"/><rect x="608" y="174" width="3" height="1" fill="#f23050"/><rect x="608" y="157" width="1" height="18" fill="#f23050"/><rect x="610" y="157" width="1" height="18" fill="#f23050"/><rect x="614" y="134" width="1" height="3" fill="#f23050"/><rect x="614" y="157" width="1" height="1" fill="#f23050"/><rect x="613" y="137" width="3" height="1" fill="#f23050"/><rect x="613" y="156" width="3" height="1" fill="#f23050"/><rect x="613" y="137" width="1" height="20" fill="#f23050"/><rect x="615" y="137" width="1" height="20" fill="#f23050"/><rect x="619" y="132" width="1" height="52" fill="#3ccd87"/><rect x="618" y="136" width="3" height="44" fill="#3ccd87"/><rect x="624" y="155" width="1" height="5" fill="#f23050"/><rect x="624" y="180" width="1" height="4" fill="#f23050"/><rect x="623" y="160" width="3" height="1" fill="#f23050"/><rect x="623" y="179" width="3" height="1" fill="#f23050"/><rect x="623" y="160" width="1" height="20" fill="#f23050"/><rect x="625" y="160" width="1" height="20" fill="#f23050"/><rect x="629" y="135" width="1" height="33" fill="#3ccd87"/><rect x="628" y="159" width="3" height="7" fill="#3ccd87"/><rect x="634" y="163" width="1" height="39" fill="#3ccd87"/><rect x="633" y="166" width="3" height="30" fill="#3ccd87"/><rect x="639" y="183" width="1" height="5" fill="#f23050"/><rect x="639" y="196" width="1" height="12" fill="#f23050"/><rect x="638" y="188" width="3" height="1" fill="#f23050"/><rect x="638" y="195" width="3" height="1" fill="#f23050"/><rect x="638" y="188" width="1" height="8" fill="#f23050"/><rect x="640" y="188" width="1" height="8" fill="#f23050"/><rect x="644" y="178" width="1" height="2" fill="#f23050"/><rect x="644" y="190" width="1" height="6" fill="#f23050"/><rect x="643" y="180" width="3" height="1" fill="#f23050"/><rect x="643" y="189" width="3" height="1" fill="#f23050"/><rect x="643" y="180" width="1" height="10" fill="#f23050"/><rect x="645" y="180" width="1" height="10" fill="#f23050"/><rect x="649" y="145" width="1" height="4" fill="#f23050"/><rect x="649" y="180" width="1" height="1" fill="#f23050"/><rect x="648" y="149" width="3" height="1" fill="#f23050"/><rect x="648" y="179" width="3" height="1" fill="#f23050"/><rect x="648" y="149" width="1" height="31" fill="#f23050"/><rect x="650" y="149" width="1" height="31" fill="#f23050"/><rect x="654" y="138" width="1" height="4" fill="#f23050"/><rect x="654" y="149" width="1" height="9" fill="#f23050"/><rect x="653" y="142" width="3" height="1" fill="#f23050"/><rect x="653" y="148" width="3" height="1" fill="#f23050"/><rect x="653" y="142" width="1" height="7" fill="#f23050"/><rect x="655" y="142" width="1" height="7" fill="#f23050"/><rect x="659" y="137" width="1" height="25" fill="#3ccd87"/><rect x="658" y="142" width="3" height="5" fill="#3ccd87"/><rect x="664" y="136" width="1" height="22" fill="#3ccd87"/><rect x="663" y="147" width="3" height="7" fill="#3ccd87"/><rect x="669" y="145" width="1" height="7" fill="#f23050"/><rect x="669" y="155" width="1" height="6" fill="#f23050"/><rect x="668" y="152" width="3" height="1" fill="#f23050"/><rect x="668" y="154" width="3" height="1" fill="#f23050"/><rect x="668" y="152" width="1" height="3" fill="#f23050"/><rect x="670" y="152" width="1" height="3" fill="#f23050"/><rect x="674" y="146" width="1" height="26" fill="#3ccd87"/><rect x="673" y="153" width="3" height="8" fill="#3ccd87"/><rect x="679" y="114" width="1" height="5" fill="#f23050"/><rect x="679" y="161" width="1" height="4" fill="#f23050"/><rect x="678" y="119" width="3" height="1" fill="#f23050"/><rect x="678" y="160" width="3" height="1" fill="#f23050"/><rect x="678" y="119" width="1" height="42" fill="#f23050"/><rect x="680" y="119" width="1" height="42" fill="#f23050"/><rect x="684" y="107" width="1" height="18" fill="#3ccd87"/><rect x="683" y="120" width="3" height="1" fill="#3ccd87"/><rect x="689" y="114" width="1" height="23" fill="#3ccd87"/><rect x="688" y="120" width="3" height="7" fill="#3ccd87"/><rect x="694" y="112" width="1" height="3" fill="#f23050"/><rect x="694" y="129" width="1" height="6" fill="#f23050"/><rect x="693" y="115" width="3" height="1" fill="#f23050"/><rect x="693" y="128" width="3" height="1" fill="#f23050"/><rect x="693" y="115" width="1" height="14" fill="#f23050"/><rect x="695" y="115" width="1" height="14" fill="#f23050"/><rect x="699" y="97" width="1" height="11" fill="#f23050"/><rect x="699" y="115" width="1" height="12" fill="#f23050"/><rect x="698" y="108" width="3" height="1" fill="#f23050"/><rect x="698" y="114" width="3" height="1" fill="#f23050"/><rect x="698" y="108" width="1" height="7" fill="#f23050"/><rect x="700" y="108" width="1" height="7" fill="#f23050"/><rect x="704" y="103" width="1" height="55" fill="#3ccd87"/><rect x="703" y="108" width="3" height="44" fill="#3ccd87"/><rect x="709" y="147" width="1" height="47" fill="#3ccd87"/><rect x="708" y="151" width="3" height="35" fill="#3ccd87"/><rect x="714" y="182" width="1" height="30" fill="#3ccd87"/><rect x="713" y="185" width="3" height="10" fill="#3ccd87"/><rect x="719" y="182" width="1" height="5" fill="#f23050"/><rect x="719" y="196" width="1" height="8" fill="#f23050"/><rect x="718" y="187" width="3" height="1" fill="#f23050"/><rect x="718" y="195" width="3" height="1" fill="#f23050"/><rect x="718" y="187" width="1" height="9" fill="#f23050"/><rect x="720" y="187" width="1" height="9" fill="#f23050"/><rect x="724" y="168" width="1" height="12" fill="#f23050"/><rect x="724" y="186" width="1" height="2" fill="#f23050"/><rect x="723" y="180" width="3" height="1" fill="#f23050"/><rect x="723" y="185" width="3" height="1" fill="#f23050"/><rect x="723" y="180" width="1" height="6" fill="#f23050"/><rect x="725" y="180" width="1" height="6" fill="#f23050"/><rect x="729" y="164" width="1" height="8" fill="#f23050"/><rect x="729" y="180" width="1" height="10" fill="#f23050"/><rect x="728" y="172" width="3" height="1" fill="#f23050"/><rect x="728" y="179" width="3" height="1" fill="#f23050"/><rect x="728" y="172" width="1" height="8" fill="#f23050"/><rect x="730" y="172" width="1" height="8" fill="#f23050"/><rect x="734" y="167" width="1" height="32" fill="#3ccd87"/><rect x="733" y="171" width="3" height="4" fill="#3ccd87"/><rect x="739" y="158" width="1" height="11" fill="#f23050"/><rect x="739" y="174" width="1" height="19" fill="#f23050"/><rect x="738" y="169" width="3" height="1" fill="#f23050"/><rect x="738" y="173" width="3" height="1" fill="#f23050"/><rect x="738" y="169" width="1" height="5" fill="#f23050"/><rect x="740" y="169" width="1" height="5" fill="#f23050"/><rect x="744" y="145" width="1" height="5" fill="#f23050"/><rect x="743" y="150" width="3" height="1" fill="#f23050"/><rect x="743" y="170" width="3" height="1" fill="#f23050"/><rect x="743" y="150" width="1" height="21" fill="#f23050"/><rect x="745" y="150" width="1" height="21" fill="#f23050"/><rect x="749" y="136" width="1" height="6" fill="#f23050"/><rect x="749" y="150" width="1" height="7" fill="#f23050"/><rect x="748" y="142" width="3" height="1" fill="#f23050"/><rect x="748" y="149" width="3" height="1" fill="#f23050"/><rect x="748" y="142" width="1" height="8" fill="#f23050"/><rect x="750" y="142" width="1" height="8" fill="#f23050"/><rect x="754" y="126" width="1" height="4" fill="#f23050"/><rect x="754" y="142" width="1" height="1" fill="#f23050"/><rect x="753" y="130" width="3" height="1" fill="#f23050"/><rect x="753" y="141" width="3" height="1" fill="#f23050"/><rect x="753" y="130" width="1" height="12" fill="#f23050"/><rect x="755" y="130" width="1" height="12" fill="#f23050"/><rect x="759" y="116" width="1" height="31" fill="#3ccd87"/><rect x="758" y="131" width="3" height="10" fill="#3ccd87"/><rect x="764" y="79" width="1" height="12" fill="#f23050"/><rect x="764" y="141" width="1" height="7" fill="#f23050"/><rect x="763" y="91" width="3" height="1" fill="#f23050"/><rect x="763" y="140" width="3" height="1" fill="#f23050"/><rect x="763" y="91" width="1" height="50" fill="#f23050"/><rect x="765" y="91" width="1" height="50" fill="#f23050"/><rect x="769" y="66" width="1" height="6" fill="#f23050"/><rect x="769" y="87" width="1" height="15" fill="#f23050"/><rect x="768" y="72" width="3" height="1" fill="#f23050"/><rect x="768" y="86" width="3" height="1" fill="#f23050"/><rect x="768" y="72" width="1" height="15" fill="#f23050"/><rect x="770" y="72" width="1" height="15" fill="#f23050"/><rect x="774" y="60" width="1" height="1" fill="#f23050"/><rect x="774" y="71" width="1" height="1" fill="#f23050"/><rect x="773" y="61" width="3" height="1" fill="#f23050"/><rect x="773" y="70" width="3" height="1" fill="#f23050"/><rect x="773" y="61" width="1" height="10" fill="#f23050"/><rect x="775" y="61" width="1" height="10" fill="#f23050"/><rect x="69" y="441" width="1" height="11" fill="#f23050"/><rect x="74" y="443" width="1" height="9" fill="#f23050"/><rect x="79" y="444" width="1" height="8" fill="#f23050"/><rect x="84" y="447" width="1" height="5" fill="#f23050"/><rect x="89" y="451" width="1" height="11" fill="#3ccd87"/><rect x="94" y="451" width="1" height="32" fill="#3ccd87"/><rect x="99" y="451" width="1" height="43" fill="#3ccd87"/><rect x="104" y="451" width="1" height="40" fill="#3ccd87"/><rect x="109" y="451" width="1" height="35" fill="#3ccd87"/><rect x="114" y="451" width="1" height="22" fill="#3ccd87"/><rect x="119" y="451" width="1" height="9" fill="#3ccd87"/><rect x="124" y="451" width="1" height="1" fill="#f23050"/><rect x="129" y="445" width="1" height="7" fill="#f23050"/><rect x="134" y="443" width="1" height="9" fill="#f23050"/><rect x="139" y="442" width="1" height="10" fill="#f23050"/><rect x="144" y="434" width="1" height="18" fill="#f23050"/><rect x="149" y="430" width="1" height="22" fill="#f23050"/><rect x="154" y="432" width="1" height="20" fill="#f23050"/><rect x="159" y="433" width="1" height="19" fill="#f23050"/><rect x="164" y="427" width="1" height="25" fill="#f23050"/><rect x="169" y="427" width="1" height="25" fill="#f23050"/><rect x="174" y="426" width="1" height="26" fill="#f23050"/><rect x="179" y="427" width="1" height="25" fill="#f23050"/><rect x="184" y="430" width="1" height="22" fill="#f23050"/><rect x="189" y="428" width="1" height="24" fill="#f23050"/><rect x="194" y="429" width="1" height="23" fill="#f23050"/><rect x="199" y="443" width="1" height="9" fill="#f23050"/><rect x="204" y="449" width="1" height="3" fill="#f23050"/><rect x="209" y="451" width="1" height="4" fill="#3ccd87"/><rect x="214" y="451" width="1" height="9" fill="#3ccd87"/><rect x="219" y="451" width="1" height="10" fill="#3ccd87"/><rect x="224" y="451" width="1" height="7" fill="#3ccd87"/><rect x="229" y="451" width="1" height="6" fill="#3ccd87"/><rect x="234" y="451" width="1" height="21" fill="#3ccd87"/><rect x="239" y="451" width="1" height="28" fill="#3ccd87"/><rect x="244" y="451" width="1" height="28" fill="#3ccd87"/><rect x="249" y="451" width="1" height="23" fill="#3ccd87"/><rect x="254" y="451" width="1" height="19" fill="#3ccd87"/><rect x="259" y="451" width="1" height="25" fill="#3ccd87"/><rect x="264" y="451" width="1" height="26" fill="#3ccd87"/><rect x="269" y="451" width="1" height="24" fill="#3ccd87"/><rect x="274" y="451" width="1" height="26" fill="#3ccd87"/><rect x="279" y="451" width="1" height="28" fill="#3ccd87"/><rect x="284" y="451" width="1" height="18" fill="#3ccd87"/><rect x="289" y="451" width="1" height="9" fill="#3ccd87"/><rect x="294" y="450" width="1" height="2" fill="#f23050"/><rect x="299" y="447" width="1" height="5" fill="#f23050"/><rect x="304" y="443" width="1" height="9" fill="#f23050"/><rect x="309" y="444" width="1" height="8" fill="#f23050"/><rect x="314" y="443" width="1" height="9" fill="#f23050"/><rect x="319" y="444" width="1" height="8" fill="#f23050"/><rect x="324" y="442" width="1" height="10" fill="#f23050"/><rect x="329" y="431" width="1" height="21" fill="#f23050"/><rect x="334" y="424" width="1" height="28" fill="#f23050"/><rect x="339" y="429" width="1" height="23" fill="#f23050"/><rect x="344" y="435" width="1" height="17" fill="#f23050"/><rect x="349" y="437" width="1" height="15" fill="#f23050"/><rect x="354" y="435" width="1" height="17" fill="#f23050"/><rect x="359" y="434" width="1" height="18" fill="#f23050"/><rect x="364" y="432" width="1" height="20" fill="#f23050"/><rect x="369" y="426" width="1" height="26" fill="#f23050"/><rect x="374" y="429" width="1" height="23" fill="#f23050"/><rect x="379" y="430" width="1" height="22" fill="#f23050"/><rect x="384" y="432" width="1" height="20" fill="#f23050"/><rect x="389" y="439" width="1" height="13" fill="#f23050"/><rect x="394" y="441" width="1" height="11" fill="#f23050"/><rect x="399" y="445" width="1" height="7" fill="#f23050"/><rect x="404" y="451" width="1" height="3" fill="#3ccd87"/><rect x="409" y="451" width="1" height="2" fill="#3ccd87"/><rect x="414" y="443" width="1" height="9" fill="#f23050"/><rect x="419" y="436" width="1" height="16" fill="#f23050"/><rect x="424" y="430" width="1" height="22" fill="#f23050"/><rect x="429" y="422" width="1" height="30" fill="#f23050"/><rect x="434" y="415" width="1" height="37" fill="#f23050"/><rect x="439" y="413" width="1" height="39" fill="#f23050"/><rect x="444" y="414" width="1" height="38" fill="#f23050"/><rect x="449" y="421" width="1" height="31" fill="#f23050"/><rect x="454" y="423" width="1" height="29" fill="#f23050"/><rect x="459" y="429" width="1" height="23" fill="#f23050"/><rect x="464" y="438" width="1" height="14" fill="#f23050"/><rect x="469" y="451" width="1" height="9" fill="#3ccd87"/><rect x="474" y="451" width="1" height="27" fill="#3ccd87"/><rect x="479" y="451" width="1" height="38" fill="#3ccd87"/><rect x="484" y="451" width="1" height="44" fill="#3ccd87"/><rect x="489" y="451" width="1" height="44" fill="#3ccd87"/><rect x="494" y="451" width="1" height="46" fill="#3ccd87"/><rect x="499" y="451" width="1" height="46" fill="#3ccd87"/><rect x="504" y="451" width="1" height="44" fill="#3ccd87"/><rect x="509" y="451" width="1" height="44" fill="#3ccd87"/><rect x="514" y="451" width="1" height="37" fill="#3ccd87"/><rect x="519" y="451" width="1" height="33" fill="#3ccd87"/><rect x="524" y="451" width="1" height="26" fill="#3ccd87"/><rect x="529" y="451" width="1" height="21" fill="#3ccd87"/><rect x="534" y="451" width="1" height="19" fill="#3ccd87"/><rect x="539" y="451" width="1" height="14" fill="#3ccd87"/><rect x="544" y="451" width="1" height="9" fill="#3ccd87"/><rect x="549" y="451" width="1" height="10" fill="#3ccd87"/><rect x="554" y="451" width="1" height="8" fill="#3ccd87"/><rect x="559" y="449" width="1" height="3" fill="#f23050"/><rect x="564" y="444" width="1" height="8" fill="#f23050"/><rect x="569" y="443" width="1" height="9" fill="#f23050"/><rect x="574" y="443" width="1" height="9" fill="#f23050"/><rect x="579" y="438" width="1" height="14" fill="#f23050"/><rect x="584" y="435" width="1" height="17" fill="#f23050"/><rect x="589" y="433" width="1" height="19" fill="#f23050"/><rect x="594" y="432" width="1" height="20" fill="#f23050"/><rect x="599" y="433" width="1" height="19" fill="#f23050"/><rect x="604" y="436" width="1" height="16" fill="#f23050"/><rect x="609" y="435" width="1" height="17" fill="#f23050"/><rect x="614" y="431" width="1" height="21" fill="#f23050"/><rect x="619" y="438" width="1" height="14" fill="#f23050"/><rect x="624" y="439" width="1" height="13" fill="#f23050"/><rect x="629" y="442" width="1" height="10" fill="#f23050"/><rect x="634" y="451" width="1" height="1" fill="#f23050"/><rect x="639" y="451" width="1" height="4" fill="#3ccd87"/><rect x="644" y="451" width="1" height="5" fill="#3ccd87"/><rect x="649" y="449" width="1" height="3" fill="#f23050"/><rect x="654" y="444" width="1" height="8" fill="#f23050"/><rect x="659" y="443" width="1" height="9" fill="#f23050"/><rect x="664" y="444" width="1" height="8" fill="#f23050"/><rect x="669" y="445" width="1" height="7" fill="#f23050"/><rect x="674" y="448" width="1" height="4" fill="#f23050"/><rect x="679" y="441" width="1" height="11" fill="#f23050"/><rect x="684" y="439" width="1" height="13" fill="#f23050"/><rect x="689" y="439" width="1" height="13" fill="#f23050"/><rect x="694" y="438" width="1" height="14" fill="#f23050"/><rect x="699" y="436" width="1" height="16" fill="#f23050"/><rect x="704" y="446" width="1" height="6" fill="#f23050"/><rect x="709" y="451" width="1" height="9" fill="#3ccd87"/><rect x="714" y="451" width="1" height="19" fill="#3ccd87"/><rect x="719" y="451" width="1" height="23" fill="#3ccd87"/><rect x="724" y="451" width="1" height="23" fill="#3ccd87"/><rect x="729" y="451" width="1" height="21" fill="#3ccd87"/><rect x="734" y="451" width="1" height="19" fill="#3ccd87"/><rect x="739" y="451" width="1" height="16" fill="#3ccd87"/><rect x="744" y="451" width="1" height="10" fill="#3ccd87"/><rect x="749" y="451" width="1" height="3" fill="#3ccd87"/><rect x="754" y="447" width="1" height="5" fill="#f23050"/><rect x="759" y="446" width="1" height="6" fill="#f23050"/><rect x="764" y="435" width="1" height="17" fill="#f23050"/><rect x="769" y="425" width="1" height="27" fill="#f23050"/><rect x="774" y="419" width="1" height="33" fill="#f23050"/></g><g shape-rendering="crispEdges"><rect x="187" y="128" width="7" height="1" fill="#fff"/><rect x="189" y="126" width="1" height="4" fill="#fff"/><rect x="92" y="351" width="7" height="1" fill="#fff"/><rect x="94" y="349" width="1" height="4" fill="#fff"/><rect x="277" y="303" width="7" height="1" fill="#fff"/><rect x="279" y="301" width="1" height="4" fill="#fff"/><rect x="447" y="61" width="7" height="1" fill="#fff"/><rect x="449" y="59" width="1" height="4" fill="#fff"/><rect x="552" y="253" width="7" height="1" fill="#fff"/><rect x="554" y="251" width="1" height="4" fill="#fff"/><rect x="759" y="58" width="17" height="1" fill="#fff"/><rect x="774" y="56" width="1" height="4" fill="#fff"/></g><g shape-rendering="crispEdges" fill="#1e8ce1"><rect x="80" y="29" width="2" height="4"/><rect x="79" y="30" width="4" height="2"/><rect x="90" y="29" width="2" height="4"/><rect x="89" y="30" width="4" height="2"/><rect x="105" y="29" width="2" height="4"/><rect x="104" y="30" width="4" height="2"/><rect x="180" y="29" width="2" height="4"/><rect x="179" y="30" width="4" height="2"/><rect x="185" y="29" width="2" height="4"/><rect x="184" y="30" width="4" height="2"/><rect x="190" y="29" width="2" height="4"/><rect x="189" y="30" width="4" height="2"/><rect x="195" y="29" width="2" height="4"/><rect x="194" y="30" width="4" height="2"/><rect x="205" y="29" width="2" height="4"/><rect x="204" y="30" width="4" height="2"/><rect x="215" y="29" width="2" height="4"/><rect x="214" y="30" width="4" height="2"/><rect x="220" y="29" width="2" height="4"/><rect x="219" y="30" width="4" height="2"/><rect x="225" y="29" width="2" height="4"/><rect x="224" y="30" width="4" height="2"/><rect x="230" y="29" width="2" height="4"/><rect x="229" y="30" width="4" height="2"/><rect x="235" y="29" width="2" height="4"/><rect x="234" y="30" width="4" height="2"/><rect x="240" y="29" width="2" height="4"/><rect x="239" y="30" width="4" height="2"/><rect x="245" y="29" width="2" height="4"/><rect x="244" y="30" width="4" height="2"/><rect x="250" y="29" width="2" height="4"/><rect x="249" y="30" width="4" height="2"/><rect x="255" y="29" width="2" height="4"/><rect x="254" y="30" width="4" height="2"/><rect x="260" y="29" width="2" height="4"/><rect x="259" y="30" width="4" height="2"/><rect x="265" y="29" width="2" height="4"/><rect x="264" y="30" width="4" height="2"/><rect x="270" y="29" width="2" height="4"/><rect x="269" y="30" width="4" height="2"/><rect x="275" y="29" width="2" height="4"/><rect x="274" y="30" width="4" height="2"/><rect x="280" y="29" width="2" height="4"/><rect x="279" y="30" width="4" height="2"/><rect x="285" y="29" width="2" height="4"/><rect x="284" y="30" width="4" height="2"/><rect x="290" y="29" width="2" height="4"/><rect x="289" y="30" width="4" height="2"/><rect x="300" y="29" width="2" height="4"/><rect x="299" y="30" width="4" height="2"/><rect x="305" y="29" width="2" height="4"/><rect x="304" y="30" width="4" height="2"/><rect x="315" y="29" width="2" height="4"/><rect x="314" y="30" width="4" height="2"/><rect x="320" y="29" width="2" height="4"/><rect x="319" y="30" width="4" height="2"/><rect x="325" y="29" width="2" height="4"/><rect x="324" y="30" width="4" height="2"/><rect x="330" y="29" width="2" height="4"/><rect x="329" y="30" width="4" height="2"/><rect x="335" y="29" width="2" height="4"/><rect x="334" y="30" width="4" height="2"/><rect x="340" y="29" width="2" height="4"/><rect x="339" y="30" width="4" height="2"/><rect x="345" y="29" width="2" height="4"/><rect x="344" y="30" width="4" height="2"/><rect x="350" y="29" width="2" height="4"/><rect x="349" y="30" width="4" height="2"/><rect x="355" y="29" width="2" height="4"/><rect x="354" y="30" width="4" height="2"/><rect x="360" y="29" width="2" height="4"/><rect x="359" y="30" width="4" height="2"/><rect x="365" y="29" width="2" height="4"/><rect x="364" y="30" width="4" height="2"/><rect x="370" y="29" width="2" height="4"/><rect x="369" y="30" width="4" height="2"/><rect x="375" y="29" width="2" height="4"/><rect x="374" y="30" width="4" height="2"/><rect x="380" y="29" width="2" height="4"/><rect x="379" y="30" width="4" height="2"/><rect x="385" y="29" width="2" height="4"/><rect x="384" y="30" width="4" height="2"/><rect x="390" y="29" width="2" height="4"/><rect x="389" y="30" width="4" height="2"/><rect x="395" y="29" width="2" height="4"/><rect x="394" y="30" width="4" height="2"/><rect x="400" y="29" width="2" height="4"/><rect x="399" y="30" width="4" height="2"/><rect x="405" y="29" width="2" height="4"/><rect x="404" y="30" width="4" height="2"/><rect x="410" y="29" width="2" height="4"/><rect x="409" y="30" width="4" height="2"/><rect x="415" y="29" width="2" height="4"/><rect x="414" y="30" width="4" height="2"/><rect x="420" y="29" width="2" height="4"/><rect x="419" y="30" width="4" height="2"/><rect x="425" y="29" width="2" height="4"/><rect x="424" y="30" width="4" height="2"/><rect x="430" y="29" width="2" height="4"/><rect x="429" y="30" width="4" height="2"/><rect x="435" y="29" width="2" height="4"/><rect x="434" y="30" width="4" height="2"/><rect x="440" y="29" width="2" height="4"/><rect x="439" y="30" width="4" height="2"/><rect x="445" y="29" width="2" height="4"/><rect x="444" y="30" width="4" height="2"/><rect x="450" y="29" width="2" height="4"/><rect x="449" y="30" width="4" height="2"/><rect x="460" y="29" width="2" height="4"/><rect x="459" y="30" width="4" height="2"/><rect x="465" y="29" width="2" height="4"/><rect x="464" y="30" width="4" height="2"/><rect x="470" y="29" width="2" height="4"/><rect x="469" y="30" width="4" height="2"/><rect x="475" y="29" width="2" height="4"/><rect x="474" y="30" width="4" height="2"/><rect x="480" y="29" width="2" height="4"/><rect x="479" y="30" width="4" height="2"/><rect x="485" y="29" width="2" height="4"/><rect x="484" y="30" width="4" height="2"/><rect x="490" y="29" width="2" height="4"/><rect x="489" y="30" width="4" height="2"/><rect x="495" y="29" width="2" height="4"/><rect x="494" y="30" width="4" height="2"/><rect x="500" y="29" width="2" height="4"/><rect x="499" y="30" width="4" height="2"/><rect x="505" y="29" width="2" height="4"/><rect x="504" y="30" width="4" height="2"/><rect x="515" y="29" width="2" height="4"/><rect x="514" y="30" width="4" height="2"/><rect x="520" y="29" width="2" height="4"/><rect x="519" y="30" width="4" height="2"/><rect x="525" y="29" width="2" height="4"/><rect x="524" y="30" width="4" height="2"/><rect x="540" y="29" width="2" height="4"/><rect x="539" y="30" width="4" height="2"/><rect x="545" y="29" width="2" height="4"/><rect x="544" y="30" width="4" height="2"/><rect x="550" y="29" width="2" height="4"/><rect x="549" y="30" width="4" height="2"/><rect x="555" y="29" width="2" height="4"/><rect x="554" y="30" width="4" height="2"/><rect x="565" y="29" width="2" height="4"/><rect x="564" y="30" width="4" height="2"/></g><path d="M421 425h1v2h-1zM705 430h1v2h-1zM713 443h1v2h-1zM433 408h1v2h-1zM706 432h1v2h-1zM96 480h1v2h-1zM467 405h1v2h-1zM416 431h1v2h-1zM473 420h1v3h-1zM766 432h1v2h-1zM708 436h1v2h-1zM436 404h1v2h-1zM328 461h1v2h-1zM331 457h1v2h-1zM470 411h1v3h-1zM481 437h1v2h-1zM765 434h1v2h-1zM95 478h1v2h-1zM466 403h1v2h-1zM366 443h1v2h-1zM469 409h1v2h-1zM477 430h1v2h-1zM327 463h1v2h-1zM233 456h1v2h-1zM91 466h1v4h-1zM761 440h1v2h-1zM465 401h1v2h-1zM472 417h1v3h-1zM94 476h1v2h-1zM232 454h1v2h-1zM141 466h1v2h-1zM483 440h1v2h-1zM468 407h1v2h-1zM768 429h1v2h-1zM476 428h1v2h-1zM478 432h1v2h-1zM90 463h1v3h-1zM464 399h1v2h-1zM326 465h1v2h-1zM475 426h1v2h-1zM93 473h1v3h-1zM231 452h1v2h-1zM471 414h1v3h-1zM89 461h1v2h-1zM486 444h1v2h-1zM425 420h1v2h-1zM428 416h1v2h-1zM474 423h1v3h-1zM506 465h1v2h-1zM86 455h1v2h-1zM92 470h1v3h-1zM230 450h1v2h-1zM763 437h1v2h-1zM325 467h1v2h-1zM161 453h1v2h-1zM480 435h1v2h-1zM770 426h1v2h-1zM85 453h1v2h-1zM236 460h1v2h-1zM431 411h1v2h-1zM88 459h1v2h-1zM773 422h1v2h-1zM87 457h1v2h-1zM760 442h1v2h-1zM98 484h1v2h-1zM430 413h1v2h-1zM707 434h1v2h-1zM97 482h1v2h-1zM710 439h1v2h-1zM174 444h1v1h-1zM207 444h2v1h-2zM605 444h2v1h-2zM635 444h2v1h-2zM647 444h2v1h-2zM759 444h1v1h-1zM69 451h13v1h-13zM163 451h1v1h-1zM355 451h2v1h-2zM492 451h1v1h-1zM589 451h1v1h-1zM721 451h2v1h-2zM745 451h2v1h-2zM128 474h1v1h-1zM256 474h1v1h-1zM302 474h2v1h-2zM136 470h2v1h-2zM247 470h4v1h-4zM321 470h2v1h-2zM512 470h5v1h-5zM543 470h3v1h-3zM556 470h1v1h-1zM187 437h2v1h-2zM199 437h1v1h-1zM374 437h2v1h-2zM392 437h5v1h-5zM411 437h1v1h-1zM667 437h5v1h-5zM675 437h1v1h-1zM185 438h2v1h-2zM200 438h1v1h-1zM372 438h2v1h-2zM397 438h4v1h-4zM410 438h1v1h-1zM614 438h2v1h-2zM658 438h9v1h-9zM672 438h3v1h-3zM709 438h1v1h-1zM104 489h3v1h-3zM110 489h1v1h-1zM278 489h1v1h-1zM280 489h2v1h-2zM131 472h2v1h-2zM253 472h2v1h-2zM307 472h10v1h-10zM532 472h9v1h-9zM548 472h7v1h-7zM179 441h2v1h-2zM203 441h1v1h-1zM368 441h1v1h-1zM610 441h1v1h-1zM631 441h2v1h-2zM652 441h2v1h-2zM711 441h1v1h-1zM145 462h1v1h-1zM237 462h1v1h-1zM503 462h1v1h-1zM567 462h5v1h-5zM138 469h2v1h-2zM244 469h3v1h-3zM323 469h2v1h-2zM509 469h3v1h-3zM557 469h1v1h-1zM169 447h1v1h-1zM212 447h2v1h-2zM362 447h2v1h-2zM488 447h1v1h-1zM595 447h2v1h-2zM716 447h1v1h-1zM753 447h2v1h-2zM133 471h3v1h-3zM251 471h2v1h-2zM317 471h4v1h-4zM517 471h15v1h-15zM541 471h2v1h-2zM546 471h2v1h-2zM555 471h1v1h-1zM123 478h1v1h-1zM261 478h2v1h-2zM294 478h2v1h-2zM334 454h8v1h-8zM347 454h4v1h-4zM495 454h1v1h-1zM584 454h1v1h-1zM732 454h9v1h-9zM107 490h3v1h-3zM279 490h1v1h-1zM152 457h5v1h-5zM498 457h1v1h-1zM580 457h1v1h-1zM190 435h2v1h-2zM196 435h2v1h-2zM378 435h4v1h-4zM386 435h2v1h-2zM413 435h1v1h-1zM678 435h1v1h-1zM99 486h1v1h-1zM114 486h1v1h-1zM274 486h1v1h-1zM285 486h1v1h-1zM149 458h3v1h-3zM234 458h1v1h-1zM499 458h1v1h-1zM579 458h1v1h-1zM181 440h2v1h-2zM202 440h1v1h-1zM369 440h1v1h-1zM403 440h4v1h-4zM611 440h2v1h-2zM618 440h4v1h-4zM630 440h1v1h-1zM654 440h2v1h-2zM164 450h1v1h-1zM357 450h2v1h-2zM491 450h1v1h-1zM590 450h2v1h-2zM719 450h2v1h-2zM747 450h2v1h-2zM192 434h2v1h-2zM195 434h1v1h-1zM382 434h4v1h-4zM414 434h1v1h-1zM479 434h1v1h-1zM679 434h1v1h-1zM453 396h7v1h-7zM165 449h2v1h-2zM217 449h5v1h-5zM227 449h3v1h-3zM359 449h1v1h-1zM490 449h1v1h-1zM592 449h2v1h-2zM718 449h1v1h-1zM749 449h2v1h-2zM183 439h2v1h-2zM201 439h1v1h-1zM370 439h2v1h-2zM401 439h2v1h-2zM407 439h3v1h-3zM482 439h1v1h-1zM613 439h1v1h-1zM616 439h2v1h-2zM622 439h8v1h-8zM656 439h2v1h-2zM762 439h1v1h-1zM167 448h2v1h-2zM214 448h3v1h-3zM222 448h5v1h-5zM360 448h2v1h-2zM489 448h1v1h-1zM594 448h1v1h-1zM717 448h1v1h-1zM751 448h2v1h-2zM100 487h2v1h-2zM113 487h1v1h-1zM275 487h1v1h-1zM284 487h1v1h-1zM160 455h1v1h-1zM333 455h1v1h-1zM342 455h5v1h-5zM496 455h1v1h-1zM583 455h1v1h-1zM147 460h1v1h-1zM329 460h1v1h-1zM501 460h1v1h-1zM575 460h2v1h-2zM429 415h1v1h-1zM82 452h3v1h-3zM162 452h1v1h-1zM353 452h2v1h-2zM493 452h1v1h-1zM587 452h2v1h-2zM723 452h4v1h-4zM743 452h2v1h-2zM102 488h2v1h-2zM111 488h2v1h-2zM276 488h2v1h-2zM282 488h2v1h-2zM172 445h2v1h-2zM209 445h1v1h-1zM365 445h1v1h-1zM599 445h6v1h-6zM637 445h2v1h-2zM645 445h2v1h-2zM714 445h1v1h-1zM757 445h2v1h-2zM129 473h2v1h-2zM255 473h1v1h-1zM304 473h3v1h-3zM177 442h2v1h-2zM204 442h1v1h-1zM367 442h1v1h-1zM484 442h1v1h-1zM609 442h1v1h-1zM633 442h1v1h-1zM650 442h2v1h-2zM712 442h1v1h-1zM146 461h1v1h-1zM502 461h1v1h-1zM572 461h3v1h-3zM126 475h2v1h-2zM257 475h1v1h-1zM300 475h2v1h-2zM142 465h1v1h-1zM240 465h1v1h-1zM561 465h2v1h-2zM170 446h2v1h-2zM210 446h2v1h-2zM364 446h1v1h-1zM487 446h1v1h-1zM597 446h2v1h-2zM639 446h6v1h-6zM715 446h1v1h-1zM755 446h2v1h-2zM117 483h1v1h-1zM270 483h1v1h-1zM289 483h1v1h-1zM189 436h1v1h-1zM198 436h1v1h-1zM376 436h2v1h-2zM388 436h4v1h-4zM412 436h1v1h-1zM676 436h2v1h-2zM764 436h1v1h-1zM419 428h1v1h-1zM692 428h2v1h-2zM703 428h1v1h-1zM769 428h1v1h-1zM682 432h2v1h-2zM444 398h7v1h-7zM462 398h2v1h-2zM696 426h2v1h-2zM700 426h1v1h-1zM241 466h1v1h-1zM560 466h1v1h-1zM118 482h1v1h-1zM269 482h1v1h-1zM290 482h1v1h-1zM451 397h2v1h-2zM460 397h2v1h-2zM144 463h1v1h-1zM238 463h1v1h-1zM504 463h1v1h-1zM564 463h3v1h-3zM420 427h1v1h-1zM694 427h2v1h-2zM701 427h2v1h-2zM140 468h1v1h-1zM243 468h1v1h-1zM508 468h1v1h-1zM558 468h1v1h-1zM423 423h1v1h-1zM124 477h1v1h-1zM259 477h2v1h-2zM296 477h2v1h-2zM432 410h1v1h-1zM435 406h1v1h-1zM351 453h2v1h-2zM494 453h1v1h-1zM585 453h2v1h-2zM727 453h5v1h-5zM741 453h2v1h-2zM120 480h1v1h-1zM265 480h2v1h-2zM292 480h1v1h-1zM175 443h2v1h-2zM205 443h2v1h-2zM485 443h1v1h-1zM607 443h2v1h-2zM634 443h1v1h-1zM649 443h1v1h-1zM194 433h1v1h-1zM415 433h1v1h-1zM680 433h2v1h-2zM148 459h1v1h-1zM235 459h1v1h-1zM330 459h1v1h-1zM500 459h1v1h-1zM577 459h2v1h-2zM417 430h1v1h-1zM687 430h3v1h-3zM157 456h3v1h-3zM332 456h1v1h-1zM497 456h1v1h-1zM581 456h2v1h-2zM125 476h1v1h-1zM258 476h1v1h-1zM298 476h2v1h-2zM684 431h3v1h-3zM767 431h1v1h-1zM426 419h1v1h-1zM438 402h1v1h-1zM442 399h2v1h-2zM418 429h1v1h-1zM690 429h2v1h-2zM704 429h1v1h-1zM119 481h1v1h-1zM267 481h2v1h-2zM291 481h1v1h-1zM143 464h1v1h-1zM239 464h1v1h-1zM505 464h1v1h-1zM563 464h1v1h-1zM242 467h1v1h-1zM507 467h1v1h-1zM559 467h1v1h-1zM698 425h2v1h-2zM771 425h1v1h-1zM116 484h1v1h-1zM271 484h2v1h-2zM288 484h1v1h-1zM440 400h2v1h-2zM121 479h2v1h-2zM263 479h2v1h-2zM293 479h1v1h-1zM115 485h1v1h-1zM273 485h1v1h-1zM286 485h2v1h-2zM437 403h1v1h-1zM424 422h1v1h-1zM427 418h1v1h-1zM439 401h1v1h-1zM422 424h1v1h-1zM772 424h1v1h-1zM434 407h1v1h-1z" fill="#ffffff" shape-rendering="crispEdges"/><path d="M481 418h1v2h-1zM496 434h1v2h-1zM188 448h3v1h-3zM231 448h2v1h-2zM374 448h2v1h-2zM509 448h1v1h-1zM616 448h2v1h-2zM742 448h15v1h-15zM425 432h1v1h-1zM494 432h1v1h-1zM698 432h9v1h-9zM178 453h2v1h-2zM239 453h1v1h-1zM365 453h2v1h-2zM515 453h1v1h-1zM606 453h2v1h-2zM96 461h1v1h-1zM164 461h1v1h-1zM252 461h2v1h-2zM348 461h3v1h-3zM527 461h2v1h-2zM586 461h2v1h-2zM69 456h3v1h-3zM88 456h2v1h-2zM172 456h2v1h-2zM244 456h1v1h-1zM360 456h2v1h-2zM519 456h1v1h-1zM598 456h3v1h-3zM199 443h3v1h-3zM207 443h5v1h-5zM384 443h3v1h-3zM504 443h1v1h-1zM652 443h5v1h-5zM727 443h2v1h-2zM767 443h2v1h-2zM417 437h2v1h-2zM498 437h1v1h-1zM683 437h4v1h-4zM716 437h2v1h-2zM197 444h2v1h-2zM212 444h5v1h-5zM382 444h2v1h-2zM505 444h1v1h-1zM628 444h24v1h-24zM729 444h3v1h-3zM765 444h2v1h-2zM202 442h5v1h-5zM387 442h4v1h-4zM503 442h1v1h-1zM657 442h5v1h-5zM725 442h2v1h-2zM769 442h1v1h-1zM184 450h2v1h-2zM234 450h1v1h-1zM370 450h2v1h-2zM511 450h2v1h-2zM612 450h2v1h-2zM100 465h1v1h-1zM157 465h2v1h-2zM259 465h1v1h-1zM339 465h2v1h-2zM537 465h5v1h-5zM572 465h4v1h-4zM104 469h1v1h-1zM149 469h2v1h-2zM266 469h2v1h-2zM332 469h2v1h-2zM112 475h2v1h-2zM132 475h5v1h-5zM276 475h2v1h-2zM317 475h5v1h-5zM429 429h1v1h-1zM491 429h1v1h-1zM110 474h2v1h-2zM137 474h4v1h-4zM275 474h1v1h-1zM322 474h3v1h-3zM412 439h3v1h-3zM500 439h1v1h-1zM677 439h4v1h-4zM720 439h2v1h-2zM420 435h2v1h-2zM691 435h2v1h-2zM712 435h2v1h-2zM109 473h1v1h-1zM141 473h2v1h-2zM274 473h1v1h-1zM325 473h2v1h-2zM415 438h2v1h-2zM499 438h1v1h-1zM681 438h2v1h-2zM718 438h2v1h-2zM282 478h5v1h-5zM297 478h5v1h-5zM195 445h2v1h-2zM217 445h10v1h-10zM380 445h2v1h-2zM506 445h1v1h-1zM626 445h2v1h-2zM732 445h4v1h-4zM763 445h2v1h-2zM459 406h3v1h-3zM466 406h2v1h-2zM77 454h9v1h-9zM176 454h2v1h-2zM240 454h2v1h-2zM364 454h1v1h-1zM516 454h2v1h-2zM603 454h3v1h-3zM191 447h2v1h-2zM230 447h1v1h-1zM376 447h2v1h-2zM508 447h1v1h-1zM618 447h4v1h-4zM738 447h4v1h-4zM757 447h4v1h-4zM444 415h1v1h-1zM478 415h1v1h-1zM95 460h1v1h-1zM165 460h2v1h-2zM250 460h2v1h-2zM351 460h2v1h-2zM525 460h2v1h-2zM588 460h3v1h-3zM393 440h19v1h-19zM501 440h1v1h-1zM672 440h5v1h-5zM722 440h2v1h-2zM772 440h2v1h-2zM97 462h1v1h-1zM162 462h2v1h-2zM254 462h1v1h-1zM346 462h2v1h-2zM529 462h2v1h-2zM582 462h4v1h-4zM424 433h1v1h-1zM495 433h1v1h-1zM696 433h2v1h-2zM707 433h3v1h-3zM94 459h1v1h-1zM167 459h2v1h-2zM249 459h1v1h-1zM353 459h3v1h-3zM524 459h1v1h-1zM591 459h2v1h-2zM102 467h1v1h-1zM153 467h2v1h-2zM262 467h2v1h-2zM335 467h2v1h-2zM547 467h5v1h-5zM562 467h5v1h-5zM422 434h2v1h-2zM693 434h3v1h-3zM710 434h2v1h-2zM391 441h2v1h-2zM502 441h1v1h-1zM662 441h10v1h-10zM724 441h1v1h-1zM770 441h2v1h-2zM101 466h1v1h-1zM155 466h2v1h-2zM260 466h2v1h-2zM337 466h2v1h-2zM542 466h5v1h-5zM567 466h5v1h-5zM436 423h1v1h-1zM485 423h1v1h-1zM180 452h2v1h-2zM237 452h2v1h-2zM367 452h2v1h-2zM514 452h1v1h-1zM608 452h2v1h-2zM103 468h1v1h-1zM151 468h2v1h-2zM264 468h2v1h-2zM334 468h1v1h-1zM552 468h10v1h-10zM99 464h1v1h-1zM159 464h1v1h-1zM257 464h2v1h-2zM341 464h2v1h-2zM533 464h4v1h-4zM576 464h2v1h-2zM117 477h10v1h-10zM279 477h3v1h-3zM302 477h5v1h-5zM72 455h5v1h-5zM86 455h2v1h-2zM174 455h2v1h-2zM242 455h2v1h-2zM362 455h2v1h-2zM518 455h1v1h-1zM601 455h2v1h-2zM193 446h2v1h-2zM227 446h3v1h-3zM378 446h2v1h-2zM507 446h1v1h-1zM622 446h4v1h-4zM736 446h2v1h-2zM761 446h2v1h-2zM114 476h3v1h-3zM127 476h5v1h-5zM278 476h1v1h-1zM307 476h10v1h-10zM428 430h1v1h-1zM492 430h1v1h-1zM287 479h10v1h-10zM419 436h1v1h-1zM497 436h1v1h-1zM687 436h4v1h-4zM714 436h2v1h-2zM92 458h2v1h-2zM169 458h1v1h-1zM247 458h2v1h-2zM356 458h2v1h-2zM522 458h2v1h-2zM593 458h3v1h-3zM106 471h2v1h-2zM145 471h2v1h-2zM270 471h2v1h-2zM329 471h1v1h-1zM426 431h2v1h-2zM493 431h1v1h-1zM186 449h2v1h-2zM233 449h1v1h-1zM372 449h2v1h-2zM510 449h1v1h-1zM614 449h2v1h-2zM450 411h2v1h-2zM474 411h1v1h-1zM443 416h1v1h-1zM479 416h1v1h-1zM98 463h1v1h-1zM160 463h2v1h-2zM255 463h2v1h-2zM343 463h3v1h-3zM531 463h2v1h-2zM578 463h4v1h-4zM90 457h2v1h-2zM170 457h2v1h-2zM245 457h2v1h-2zM358 457h2v1h-2zM520 457h2v1h-2zM596 457h2v1h-2zM455 408h2v1h-2zM470 408h1v1h-1zM447 413h2v1h-2zM476 413h1v1h-1zM431 427h2v1h-2zM489 427h1v1h-1zM105 470h1v1h-1zM147 470h2v1h-2zM268 470h2v1h-2zM330 470h2v1h-2zM452 410h2v1h-2zM473 410h1v1h-1zM457 407h2v1h-2zM468 407h2v1h-2zM182 451h2v1h-2zM235 451h2v1h-2zM369 451h1v1h-1zM513 451h1v1h-1zM610 451h2v1h-2zM449 412h1v1h-1zM475 412h1v1h-1zM438 421h1v1h-1zM483 421h1v1h-1zM462 405h4v1h-4zM434 425h1v1h-1zM487 425h1v1h-1zM108 472h1v1h-1zM143 472h2v1h-2zM272 472h2v1h-2zM327 472h2v1h-2zM445 414h2v1h-2zM477 414h1v1h-1zM454 409h1v1h-1zM471 409h2v1h-2zM433 426h1v1h-1zM488 426h1v1h-1zM440 419h1v1h-1zM437 422h1v1h-1zM484 422h1v1h-1zM439 420h1v1h-1zM482 420h1v1h-1zM435 424h1v1h-1zM486 424h1v1h-1zM442 417h1v1h-1zM480 417h1v1h-1zM430 428h1v1h-1zM490 428h1v1h-1zM441 418h1v1h-1z" fill="#fcf414" shape-rendering="crispEdges"/><path d="M611 530h1v2h-1zM463 553h1v3h-1zM151 545h1v3h-1zM231 572h1v6h-1zM196 549h1v7h-1zM615 530h1v8h-1zM279 588h1v4h-1zM699 533h1v4h-1zM409 553h1v4h-1zM629 556h1v2h-1zM284 557h1v4h-1zM630 558h1v4h-1zM546 564h1v4h-1zM86 575h1v6h-1zM679 535h1v3h-1zM100 596h1v5h-1zM648 546h1v4h-1zM618 554h1v8h-1zM469 581h1v3h-1zM337 545h1v6h-1zM401 566h1v3h-1zM447 535h1v3h-1zM306 558h1v2h-1zM506 584h1v2h-1zM298 555h1v2h-1zM372 539h1v4h-1zM413 540h1v3h-1zM739 563h1v2h-1zM530 568h1v2h-1zM291 551h1v2h-1zM218 567h1v2h-1zM325 547h1v4h-1zM675 553h1v5h-1zM575 553h1v4h-1zM112 562h1v4h-1zM185 545h1v3h-1zM701 544h1v7h-1zM607 540h1v3h-1zM283 561h1v7h-1zM621 560h1v2h-1zM88 587h1v6h-1zM162 540h1v4h-1zM99 601h1v3h-1zM762 533h1v4h-1zM385 547h1v4h-1zM131 552h1v2h-1zM281 574h1v7h-1zM510 584h1v4h-1zM678 538h1v5h-1zM188 535h1v3h-1zM757 542h1v2h-1zM412 543h1v3h-1zM150 541h1v4h-1zM579 541h1v2h-1zM339 557h1v4h-1zM217 569h1v2h-1zM251 568h1v2h-1zM143 539h1v4h-1zM324 551h1v4h-1zM271 581h1v2h-1zM255 574h1v3h-1zM87 581h1v6h-1zM551 572h1v2h-1zM165 536h1v2h-1zM258 582h1v3h-1zM606 543h1v3h-1zM605 546h1v4h-1zM321 559h1v3h-1zM407 561h1v4h-1zM259 585h1v2h-1zM742 552h1v3h-1zM336 538h1v7h-1zM282 568h1v6h-1zM703 558h1v7h-1zM620 562h1v2h-1zM453 534h1v2h-1zM505 582h1v2h-1zM297 553h1v2h-1zM308 561h1v2h-1zM677 543h1v5h-1zM446 531h1v4h-1zM509 588h1v2h-1zM555 560h1v4h-1zM501 587h1v3h-1zM84 566h1v3h-1zM464 556h1v4h-1zM578 543h1v4h-1zM232 578h1v5h-1zM142 543h1v4h-1zM764 526h1v3h-1zM141 547h1v4h-1zM617 546h1v8h-1zM335 532h1v6h-1zM547 568h1v4h-1zM539 564h1v2h-1zM634 573h1v2h-1zM604 550h1v2h-1zM395 555h1v2h-1zM133 556h1v2h-1zM741 555h1v4h-1zM110 570h1v4h-1zM756 539h1v3h-1zM338 551h1v6h-1zM366 534h1v2h-1zM452 536h1v2h-1zM221 560h1v3h-1zM706 573h1v3h-1zM676 548h1v5h-1zM186 541h1v4h-1zM272 583h1v2h-1zM500 590h1v2h-1zM114 555h1v3h-1zM641 565h1v2h-1zM466 565h1v6h-1zM467 571h1v5h-1zM565 547h1v2h-1zM101 591h1v5h-1zM257 580h1v2h-1zM566 549h1v2h-1zM512 576h1v4h-1zM369 529h1v2h-1zM109 574h1v3h-1zM405 570h1v4h-1zM326 542h1v5h-1zM460 544h1v3h-1zM104 579h1v3h-1zM365 536h1v2h-1zM740 559h1v4h-1zM159 552h1v3h-1zM113 558h1v4h-1zM361 542h1v2h-1zM499 592h1v2h-1zM660 547h1v2h-1zM249 566h1v2h-1zM553 568h1v2h-1zM163 536h1v4h-1zM686 539h1v2h-1zM633 569h1v4h-1zM511 580h1v4h-1zM230 567h1v5h-1zM599 548h1v2h-1zM557 551h1v4h-1zM404 574h1v3h-1zM85 569h1v6h-1zM184 548h1v2h-1zM425 530h1v2h-1zM248 568h1v2h-1zM564 545h1v2h-1zM743 548h1v4h-1zM198 563h1v6h-1zM541 561h1v2h-1zM552 570h1v2h-1zM690 541h1v2h-1zM199 569h1v4h-1zM723 574h1v2h-1zM393 555h1v2h-1zM458 540h1v2h-1zM556 555h1v5h-1zM388 559h1v4h-1zM451 538h1v2h-1zM389 563h1v2h-1zM758 544h1v2h-1zM153 551h1v4h-1zM693 537h1v2h-1zM102 587h1v4h-1zM670 552h1v2h-1zM514 570h1v2h-1zM263 579h1v2h-1zM205 574h1v2h-1zM468 576h1v5h-1zM111 566h1v4h-1zM594 534h1v2h-1zM228 562h1v2h-1zM471 585h1v2h-1zM161 544h1v4h-1zM598 545h1v3h-1zM402 569h1v3h-1zM194 539h1v4h-1zM536 570h1v3h-1zM614 526h1v4h-1zM403 572h1v3h-1zM195 543h1v6h-1zM187 538h1v3h-1zM532 572h1v2h-1zM354 548h1v2h-1zM224 554h1v2h-1zM559 544h1v3h-1zM89 593h1v3h-1zM456 536h1v2h-1zM90 596h1v2h-1zM535 573h1v2h-1zM152 548h1v3h-1zM616 538h1v8h-1zM554 564h1v4h-1zM672 556h1v2h-1zM700 537h1v7h-1zM577 547h1v3h-1zM140 551h1v4h-1zM254 572h1v2h-1zM353 550h1v2h-1zM558 547h1v4h-1zM414 538h1v2h-1zM619 562h1v4h-1zM349 558h1v2h-1zM531 570h1v2h-1zM508 587h1v2h-1zM360 544h1v2h-1zM334 528h1v4h-1zM702 551h1v7h-1zM744 546h1v2h-1zM352 552h1v2h-1zM245 576h1v2h-1zM386 551h1v4h-1zM295 549h1v2h-1zM503 583h1v2h-1zM759 545h1v3h-1zM716 583h1v2h-1zM708 579h1v3h-1zM674 558h1v3h-1zM181 544h1v2h-1zM166 538h1v2h-1zM568 553h1v2h-1zM636 571h1v2h-1zM244 578h1v2h-1zM461 547h1v3h-1zM502 585h1v2h-1zM513 572h1v4h-1zM544 558h1v2h-1zM320 562h1v2h-1zM305 556h1v2h-1zM243 580h1v2h-1zM613 527h1v2h-1zM80 558h1v2h-1zM707 576h1v3h-1zM609 534h1v2h-1zM103 582h1v5h-1zM273 585h1v2h-1zM183 547h1v2h-1zM164 534h1v2h-1zM624 554h1v2h-1zM567 551h1v2h-1zM328 533h1v4h-1zM319 564h1v2h-1zM220 563h1v2h-1zM216 571h1v2h-1zM608 536h1v4h-1zM197 556h1v7h-1zM596 539h1v3h-1zM398 559h1v2h-1zM144 536h1v3h-1zM645 557h1v4h-1zM448 538h1v4h-1zM280 581h1v7h-1zM523 567h1v2h-1zM215 573h1v2h-1zM139 555h1v3h-1zM538 566h1v2h-1zM720 578h1v2h-1zM189 533h1v2h-1zM428 526h1v2h-1zM671 554h1v2h-1zM663 551h1v2h-1zM256 577h1v3h-1zM595 536h1v3h-1zM400 563h1v3h-1zM537 568h1v2h-1zM704 565h1v5h-1zM450 540h1v2h-1zM533 574h1v2h-1zM240 586h1v2h-1zM465 560h1v5h-1zM408 557h1v4h-1zM225 556h1v2h-1zM548 572h1v4h-1zM647 550h1v3h-1zM191 535h1v2h-1zM91 598h1v2h-1zM149 539h1v2h-1zM160 548h1v4h-1zM449 542h1v2h-1zM623 556h1v2h-1zM247 570h1v3h-1zM486 586h1v2h-1zM445 527h1v4h-1zM646 553h1v4h-1zM373 543h1v4h-1zM323 555h1v2h-1zM622 558h1v2h-1zM246 573h1v3h-1zM550 574h1v2h-1zM705 570h1v3h-1zM82 562h1v2h-1zM763 529h1v4h-1zM368 530h1v2h-1zM371 535h1v4h-1zM455 534h1v2h-1zM223 556h1v2h-1zM755 537h1v2h-1zM462 550h1v3h-1zM534 575h1v2h-1zM233 583h1v5h-1zM644 561h1v2h-1zM154 555h1v2h-1zM545 560h1v4h-1zM367 532h1v2h-1zM363 539h1v2h-1zM374 547h1v2h-1zM81 560h1v2h-1zM239 588h1v2h-1zM130 550h1v2h-1zM370 531h1v4h-1zM761 537h1v4h-1zM754 535h1v2h-1zM411 546h1v4h-1zM269 577h1v2h-1zM631 562h1v4h-1zM726 570h1v2h-1zM597 542h1v3h-1zM574 557h1v2h-1zM406 565h1v5h-1zM327 537h1v5h-1zM399 561h1v2h-1zM760 541h1v4h-1zM234 588h1v3h-1zM322 557h1v2h-1zM208 570h1v2h-1zM261 582h1v2h-1zM549 576h1v2h-1zM227 560h1v2h-1zM387 555h1v4h-1zM93 601h1v2h-1zM709 582h1v2h-1zM211 571h1v2h-1zM444 525h1v2h-1zM116 552h1v2h-1zM576 550h1v3h-1zM329 530h1v3h-1zM632 566h1v3h-1zM351 554h1v2h-1zM226 558h1v2h-1zM229 564h1v3h-1zM746 543h1v2h-1zM673 558h1v2h-1zM168 542h1v2h-1zM350 556h1v2h-1zM392 557h1v2h-1zM457 538h1v2h-1zM520 571h1v2h-1zM384 544h1v3h-1zM504 581h1v2h-1zM296 551h1v2h-1zM391 559h1v2h-1zM83 564h1v2h-1zM410 550h1v3h-1zM167 540h1v2h-1zM649 544h1v2h-1zM132 554h1v2h-1zM569 555h1v2h-1zM390 561h1v2h-1zM222 558h1v2h-1zM610 532h1v2h-1zM270 579h1v2h-1zM180 542h1v2h-1zM242 582h1v2h-1zM260 584h1v2h-1zM459 542h1v2h-1zM241 584h1v2h-1zM219 565h1v2h-1zM489 583h1v1h-1zM174 541h6v1h-6zM362 541h1v1h-1zM654 541h1v1h-1zM687 541h1v1h-1zM748 541h1v1h-1zM356 547h2v1h-2zM376 547h2v1h-2zM253 571h1v1h-1zM515 571h2v1h-2zM237 589h2v1h-2zM276 589h2v1h-2zM474 589h11v1h-11zM495 589h1v1h-1zM418 536h2v1h-2zM591 536h2v1h-2zM681 536h2v1h-2zM694 536h1v1h-1zM753 536h1v1h-1zM147 538h2v1h-2zM193 538h1v1h-1zM364 538h1v1h-1zM415 538h1v1h-1zM584 538h6v1h-6zM685 538h1v1h-1zM751 538h1v1h-1zM119 549h3v1h-3zM127 549h3v1h-3zM293 549h1v1h-1zM600 549h1v1h-1zM661 549h1v1h-1zM309 563h2v1h-2zM316 563h2v1h-2zM344 563h1v1h-1zM540 563h1v1h-1zM643 563h1v1h-1zM207 572h1v1h-1zM517 572h2v1h-2zM725 572h1v1h-1zM115 554h1v1h-1zM158 554h1v1h-1zM289 554h1v1h-1zM394 554h1v1h-1zM625 554h1v1h-1zM420 535h1v1h-1zM593 535h1v1h-1zM680 535h1v1h-1zM695 535h2v1h-2zM169 544h1v1h-1zM383 544h1v1h-1zM560 544h2v1h-2zM657 544h1v1h-1zM145 537h2v1h-2zM192 537h1v1h-1zM416 537h2v1h-2zM590 537h1v1h-1zM683 537h2v1h-2zM752 537h1v1h-1zM182 546h1v1h-1zM358 546h2v1h-2zM378 546h3v1h-3zM659 546h1v1h-1zM118 550h1v1h-1zM122 550h5v1h-5zM292 550h1v1h-1zM601 550h2v1h-2zM662 550h1v1h-1zM70 556h2v1h-2zM155 556h1v1h-1zM285 556h2v1h-2zM301 556h2v1h-2zM570 556h1v1h-1zM628 556h1v1h-1zM524 566h3v1h-3zM736 566h2v1h-2zM738 565h1v1h-1zM582 539h2v1h-2zM692 539h1v1h-1zM750 539h1v1h-1zM333 528h1v1h-1zM427 528h1v1h-1zM470 584h1v1h-1zM488 584h1v1h-1zM490 584h1v1h-1zM710 584h2v1h-2zM487 585h1v1h-1zM491 585h1v1h-1zM712 585h2v1h-2zM715 585h1v1h-1zM274 587h1v1h-1zM472 587h1v1h-1zM493 587h1v1h-1zM209 569h1v1h-1zM522 569h1v1h-1zM638 569h1v1h-1zM727 569h1v1h-1zM200 573h1v1h-1zM206 573h1v1h-1zM212 573h1v1h-1zM519 573h1v1h-1zM635 573h1v1h-1zM724 573h1v1h-1zM430 524h2v1h-2zM443 524h1v1h-1zM767 524h2v1h-2zM318 564h1v1h-1zM642 564h1v1h-1zM497 591h1v1h-1zM105 578h2v1h-2zM264 578h3v1h-3zM235 590h2v1h-2zM278 590h1v1h-1zM496 590h1v1h-1zM311 562h2v1h-2zM315 562h1v1h-1zM342 562h2v1h-2zM345 562h1v1h-1zM437 521h3v1h-3zM772 521h2v1h-2zM639 568h1v1h-1zM728 568h1v1h-1zM732 568h3v1h-3zM117 551h1v1h-1zM603 551h1v1h-1zM668 551h2v1h-2zM74 558h3v1h-3zM134 558h3v1h-3zM397 558h1v1h-1zM573 558h1v1h-1zM107 577h2v1h-2zM267 577h2v1h-2zM721 577h1v1h-1zM381 545h2v1h-2zM562 545h2v1h-2zM658 545h1v1h-1zM745 545h1v1h-1zM429 525h1v1h-1zM765 525h2v1h-2zM210 570h1v1h-1zM252 570h1v1h-1zM521 570h1v1h-1zM637 570h1v1h-1zM432 523h2v1h-2zM441 523h2v1h-2zM769 523h1v1h-1zM250 567h1v1h-1zM527 567h3v1h-3zM640 567h1v1h-1zM729 567h3v1h-3zM735 567h1v1h-1zM172 542h2v1h-2zM652 542h2v1h-2zM655 542h1v1h-1zM688 542h1v1h-1zM747 542h1v1h-1zM275 588h1v1h-1zM473 588h1v1h-1zM485 588h1v1h-1zM494 588h1v1h-1zM492 586h1v1h-1zM507 586h1v1h-1zM714 586h1v1h-1zM72 557h2v1h-2zM77 557h3v1h-3zM137 557h2v1h-2zM299 557h2v1h-2zM396 557h1v1h-1zM571 557h2v1h-2zM170 543h2v1h-2zM650 543h2v1h-2zM656 543h1v1h-1zM689 543h1v1h-1zM666 552h2v1h-2zM434 522h3v1h-3zM440 522h1v1h-1zM770 522h2v1h-2zM307 560h1v1h-1zM348 560h1v1h-1zM542 560h1v1h-1zM424 532h1v1h-1zM498 592h1v1h-1zM262 581h1v1h-1zM718 581h1v1h-1zM290 553h1v1h-1zM664 553h2v1h-2zM201 574h2v1h-2zM213 574h1v1h-1zM69 555h1v1h-1zM156 555h2v1h-2zM287 555h2v1h-2zM303 555h2v1h-2zM626 555h2v1h-2zM580 540h2v1h-2zM691 540h1v1h-1zM749 540h1v1h-1zM313 561h2v1h-2zM340 561h2v1h-2zM346 561h2v1h-2zM190 534h1v1h-1zM421 534h2v1h-2zM697 534h2v1h-2zM423 533h1v1h-1zM454 533h1v1h-1zM94 603h5v1h-5zM543 559h1v1h-1zM203 575h1v1h-1zM214 575h1v1h-1zM204 576h1v1h-1zM722 576h1v1h-1zM92 600h1v1h-1zM331 529h2v1h-2zM426 529h1v1h-1zM612 529h1v1h-1zM294 548h1v1h-1zM355 548h1v1h-1zM375 548h1v1h-1zM719 580h1v1h-1zM330 530h1v1h-1zM717 582h1v1h-1z" fill="#ffffff" shape-rendering="crispEdges"/><path d="M756 550h1v2h-1zM557 559h1v2h-1zM163 548h1v2h-1zM466 556h1v3h-1zM89 578h1v3h-1zM633 564h1v2h-1zM676 551h1v3h-1zM467 559h1v3h-1zM615 544h1v4h-1zM90 581h1v2h-1zM648 552h1v2h-1zM386 552h1v2h-1zM618 555h1v4h-1zM629 556h1v2h-1zM326 554h1v3h-1zM197 554h1v2h-1zM630 558h1v2h-1zM329 547h1v2h-1zM86 568h1v4h-1zM413 547h1v2h-1zM606 551h1v2h-1zM92 586h1v2h-1zM743 556h1v2h-1zM701 548h1v4h-1zM334 546h1v2h-1zM763 542h1v3h-1zM448 539h1v2h-1zM104 578h1v2h-1zM230 563h1v4h-1zM283 567h1v3h-1zM139 561h1v2h-1zM401 559h1v2h-1zM632 562h1v2h-1zM404 564h1v2h-1zM546 567h1v2h-1zM162 550h1v2h-1zM196 551h1v3h-1zM385 550h1v2h-1zM762 545h1v2h-1zM575 558h1v2h-1zM112 568h1v2h-1zM556 561h1v3h-1zM511 572h1v2h-1zM675 554h1v2h-1zM111 570h1v3h-1zM100 588h1v2h-1zM759 553h1v2h-1zM678 547h1v2h-1zM400 557h1v2h-1zM545 565h1v2h-1zM412 549h1v2h-1zM704 559h1v3h-1zM142 554h1v2h-1zM233 573h1v4h-1zM351 557h1v2h-1zM647 554h1v2h-1zM469 565h1v2h-1zM408 556h1v2h-1zM325 557h1v2h-1zM85 565h1v3h-1zM150 552h1v2h-1zM161 552h1v2h-1zM328 549h1v2h-1zM339 559h1v2h-1zM465 553h1v3h-1zM548 570h1v2h-1zM708 568h1v2h-1zM229 561h1v2h-1zM198 556h1v3h-1zM407 558h1v2h-1zM617 552h1v3h-1zM103 580h1v2h-1zM336 551h1v3h-1zM232 570h1v3h-1zM677 549h1v2h-1zM99 590h1v2h-1zM616 548h1v4h-1zM761 547h1v3h-1zM281 573h1v4h-1zM91 583h1v3h-1zM102 582h1v3h-1zM700 544h1v4h-1zM555 564h1v2h-1zM760 550h1v3h-1zM536 569h1v2h-1zM88 575h1v3h-1zM646 556h1v2h-1zM764 540h1v2h-1zM195 548h1v3h-1zM110 573h1v2h-1zM703 555h1v4h-1zM160 554h1v2h-1zM327 551h1v3h-1zM445 535h1v2h-1zM411 551h1v2h-1zM141 556h1v3h-1zM707 566h1v2h-1zM373 550h1v2h-1zM114 564h1v2h-1zM338 556h1v3h-1zM410 553h1v2h-1zM140 559h1v2h-1zM101 585h1v3h-1zM554 566h1v2h-1zM186 548h1v2h-1zM471 568h1v2h-1zM406 560h1v2h-1zM94 590h1v2h-1zM109 575h1v2h-1zM559 555h1v2h-1zM144 550h1v2h-1zM280 577h1v3h-1zM231 567h1v3h-1zM194 546h1v2h-1zM645 558h1v2h-1zM337 554h1v2h-1zM372 548h1v2h-1zM402 561h1v2h-1zM185 550h1v2h-1zM699 542h1v2h-1zM460 544h1v2h-1zM702 552h1v3h-1zM284 565h1v2h-1zM93 588h1v2h-1zM279 580h1v2h-1zM113 566h1v2h-1zM387 554h1v2h-1zM159 556h1v2h-1zM371 546h1v2h-1zM705 562h1v2h-1zM674 556h1v2h-1zM234 577h1v2h-1zM463 549h1v2h-1zM611 545h1v2h-1zM644 560h1v2h-1zM405 562h1v2h-1zM679 545h1v2h-1zM143 552h1v2h-1zM740 560h1v2h-1zM153 556h1v2h-1zM614 542h1v2h-1zM321 563h1v2h-1zM324 559h1v2h-1zM461 546h1v2h-1zM282 570h1v3h-1zM468 562h1v3h-1zM510 574h1v2h-1zM199 559h1v2h-1zM370 544h1v2h-1zM188 545h1v2h-1zM255 571h1v2h-1zM403 563h1v2h-1zM513 569h1v2h-1zM388 556h1v2h-1zM464 551h1v2h-1zM335 548h1v3h-1zM87 572h1v3h-1zM578 554h1v2h-1zM84 563h1v2h-1zM221 559h1v2h-1zM558 557h1v2h-1zM706 564h1v2h-1zM258 575h1v2h-1zM619 559h1v2h-1zM631 560h1v2h-1zM246 569h1v2h-1zM108 576h1v1h-1zM240 576h1v1h-1zM260 576h2v1h-2zM272 576h1v1h-1zM499 576h1v1h-1zM509 576h1v1h-1zM82 561h1v1h-1zM118 561h1v1h-1zM132 561h2v1h-2zM200 561h1v1h-1zM220 561h1v1h-1zM292 561h2v1h-2zM295 561h2v1h-2zM323 561h1v1h-1zM341 561h2v1h-2zM346 561h2v1h-2zM643 561h1v1h-1zM369 543h1v1h-1zM421 543h2v1h-2zM459 543h1v1h-1zM613 543h1v1h-1zM697 543h2v1h-2zM151 554h1v1h-1zM354 554h3v1h-3zM394 554h2v1h-2zM602 554h3v1h-3zM663 554h1v1h-1zM667 554h3v1h-3zM745 554h2v1h-2zM145 550h2v1h-2zM168 550h1v1h-1zM171 550h2v1h-2zM180 550h2v1h-2zM362 550h1v1h-1zM378 550h4v1h-4zM584 550h8v1h-8zM595 550h1v1h-1zM607 550h1v1h-1zM650 550h2v1h-2zM657 550h2v1h-2zM751 550h2v1h-2zM81 560h1v1h-1zM119 560h8v1h-8zM130 560h2v1h-2zM228 560h1v1h-1zM294 560h1v1h-1zM340 560h1v1h-1zM348 560h2v1h-2zM572 560h3v1h-3zM73 559h4v1h-4zM80 559h1v1h-1zM127 559h3v1h-3zM227 559h1v1h-1zM350 559h1v1h-1zM569 559h3v1h-3zM620 559h1v1h-1zM741 559h1v1h-1zM83 562h1v1h-1zM116 562h2v1h-2zM134 562h5v1h-5zM201 562h1v1h-1zM209 562h1v1h-1zM219 562h1v1h-1zM290 562h2v1h-2zM297 562h2v1h-2zM302 562h3v1h-3zM322 562h1v1h-1zM343 562h3v1h-3zM641 562h2v1h-2zM739 562h1v1h-1zM147 551h3v1h-3zM169 551h2v1h-2zM182 551h2v1h-2zM361 551h1v1h-1zM376 551h2v1h-2zM582 551h2v1h-2zM596 551h2v1h-2zM649 551h1v1h-1zM659 551h1v1h-1zM750 551h1v1h-1zM166 549h2v1h-2zM173 549h7v1h-7zM363 549h1v1h-1zM382 549h3v1h-3zM592 549h3v1h-3zM608 549h1v1h-1zM652 549h2v1h-2zM655 549h2v1h-2zM753 549h1v1h-1zM755 549h1v1h-1zM426 540h2v1h-2zM450 540h2v1h-2zM456 540h1v1h-1zM184 552h1v1h-1zM360 552h1v1h-1zM374 552h2v1h-2zM580 552h2v1h-2zM598 552h1v1h-1zM660 552h1v1h-1zM749 552h1v1h-1zM757 552h1v1h-1zM71 558h2v1h-2zM77 558h3v1h-3zM154 558h3v1h-3zM222 558h1v1h-1zM226 558h1v1h-1zM389 558h1v1h-1zM567 558h2v1h-2zM621 558h1v1h-1zM742 558h1v1h-1zM244 572h1v1h-1zM474 572h11v1h-11zM494 572h1v1h-1zM504 572h1v1h-1zM534 572h1v1h-1zM549 572h1v1h-1zM713 572h3v1h-3zM357 553h3v1h-3zM579 553h1v1h-1zM599 553h3v1h-3zM605 553h1v1h-1zM661 553h2v1h-2zM747 553h2v1h-2zM758 553h1v1h-1zM253 569h1v1h-1zM489 569h1v1h-1zM516 569h2v1h-2zM520 569h2v1h-2zM531 569h1v1h-1zM547 569h1v1h-1zM552 569h1v1h-1zM720 569h2v1h-2zM204 565h1v1h-1zM213 565h1v1h-1zM215 565h1v1h-1zM285 565h1v1h-1zM309 565h3v1h-3zM316 565h2v1h-2zM320 565h1v1h-1zM541 565h2v1h-2zM635 565h2v1h-2zM727 565h2v1h-2zM732 565h3v1h-3zM437 533h5v1h-5zM245 571h1v1h-1zM473 571h1v1h-1zM485 571h2v1h-2zM492 571h2v1h-2zM512 571h1v1h-1zM533 571h1v1h-1zM535 571h1v1h-1zM550 571h1v1h-1zM711 571h2v1h-2zM716 571h2v1h-2zM214 566h1v1h-1zM249 566h1v1h-1zM318 566h2v1h-2zM539 566h2v1h-2zM634 566h1v1h-1zM725 566h2v1h-2zM69 557h2v1h-2zM157 557h2v1h-2zM223 557h1v1h-1zM225 557h1v1h-1zM390 557h1v1h-1zM565 557h2v1h-2zM576 557h1v1h-1zM622 557h1v1h-1zM164 547h1v1h-1zM187 547h1v1h-1zM330 547h2v1h-2zM365 547h1v1h-1zM610 547h1v1h-1zM686 547h2v1h-2zM690 547h2v1h-2zM434 534h3v1h-3zM442 534h3v1h-3zM773 534h1v1h-1zM203 564h1v1h-1zM205 564h2v1h-2zM211 564h2v1h-2zM216 564h2v1h-2zM286 564h2v1h-2zM307 564h2v1h-2zM312 564h4v1h-4zM543 564h2v1h-2zM637 564h2v1h-2zM729 564h3v1h-3zM735 564h2v1h-2zM152 555h1v1h-1zM353 555h1v1h-1zM393 555h1v1h-1zM396 555h2v1h-2zM409 555h1v1h-1zM560 555h2v1h-2zM624 555h3v1h-3zM664 555h3v1h-3zM670 555h2v1h-2zM744 555h1v1h-1zM106 577h2v1h-2zM237 577h3v1h-3zM259 577h1v1h-1zM273 577h1v1h-1zM243 573h1v1h-1zM256 573h1v1h-1zM267 573h3v1h-3zM495 573h1v1h-1zM503 573h1v1h-1zM505 573h1v1h-1zM115 563h1v1h-1zM202 563h1v1h-1zM207 563h2v1h-2zM210 563h1v1h-1zM218 563h1v1h-1zM288 563h2v1h-2zM299 563h3v1h-3zM305 563h2v1h-2zM639 563h2v1h-2zM737 563h2v1h-2zM189 544h2v1h-2zM368 544h1v1h-1zM418 544h3v1h-3zM612 544h1v1h-1zM695 544h2v1h-2zM428 539h1v1h-1zM452 539h2v1h-2zM455 539h1v1h-1zM765 539h1v1h-1zM193 546h1v1h-1zM332 546h2v1h-2zM366 546h1v1h-1zM414 546h2v1h-2zM682 546h4v1h-4zM692 546h2v1h-2zM423 542h2v1h-2zM458 542h1v1h-1zM248 567h1v1h-1zM250 567h1v1h-1zM470 567h1v1h-1zM524 567h6v1h-6zM538 567h1v1h-1zM724 567h1v1h-1zM431 536h2v1h-2zM769 536h2v1h-2zM254 570h1v1h-1zM472 570h1v1h-1zM487 570h2v1h-2zM490 570h2v1h-2zM518 570h2v1h-2zM532 570h1v1h-1zM551 570h1v1h-1zM709 570h2v1h-2zM718 570h2v1h-2zM242 574h1v1h-1zM257 574h1v1h-1zM264 574h3v1h-3zM270 574h1v1h-1zM496 574h2v1h-2zM501 574h2v1h-2zM506 574h2v1h-2zM191 545h2v1h-2zM367 545h1v1h-1zM416 545h2v1h-2zM680 545h2v1h-2zM694 545h1v1h-1zM224 556h1v1h-1zM352 556h1v1h-1zM391 556h2v1h-2zM398 556h2v1h-2zM562 556h3v1h-3zM577 556h1v1h-1zM623 556h1v1h-1zM627 556h2v1h-2zM672 556h2v1h-2zM247 568h1v1h-1zM251 568h2v1h-2zM514 568h2v1h-2zM522 568h2v1h-2zM530 568h1v1h-1zM537 568h1v1h-1zM553 568h1v1h-1zM722 568h2v1h-2zM429 538h1v1h-1zM447 538h1v1h-1zM454 538h1v1h-1zM766 538h2v1h-2zM95 591h4v1h-4zM105 578h1v1h-1zM235 578h2v1h-2zM274 578h1v1h-1zM430 537h1v1h-1zM446 537h1v1h-1zM768 537h1v1h-1zM277 580h2v1h-2zM433 535h1v1h-1zM771 535h2v1h-2zM425 541h1v1h-1zM449 541h1v1h-1zM457 541h1v1h-1zM165 548h1v1h-1zM364 548h1v1h-1zM462 548h1v1h-1zM609 548h1v1h-1zM654 548h1v1h-1zM688 548h2v1h-2zM754 548h1v1h-1zM275 579h2v1h-2zM241 575h1v1h-1zM262 575h2v1h-2zM271 575h1v1h-1zM498 575h1v1h-1zM500 575h1v1h-1zM508 575h1v1h-1z" fill="#fcf414" shape-rendering="crispEdges"/><path d="M86 565h1v2h-1zM90 572h1v2h-1zM280 571h1v2h-1zM618 557h1v2h-1zM675 555h1v2h-1zM85 563h1v2h-1zM93 576h1v2h-1zM283 566h1v2h-1zM100 576h1v2h-1zM678 551h1v2h-1zM143 558h1v2h-1zM195 555h1v2h-1zM556 561h1v2h-1zM701 552h1v2h-1zM336 557h1v2h-1zM88 569h1v2h-1zM233 568h1v2h-1zM761 552h1v2h-1zM198 559h1v2h-1zM87 567h1v2h-1zM232 566h1v2h-1zM160 559h1v2h-1zM328 557h1v2h-1zM700 550h1v2h-1zM703 555h1v2h-1zM281 569h1v2h-1zM231 564h1v2h-1zM163 555h1v2h-1zM140 562h1v2h-1zM467 556h1v2h-1zM615 552h1v2h-1zM230 562h1v2h-1zM325 561h1v2h-1zM466 554h1v2h-1zM111 568h1v2h-1zM229 560h1v2h-1zM468 558h1v2h-1zM465 552h1v2h-1zM616 554h1v2h-1zM103 572h1v2h-1zM81 561h2v1h-2zM141 561h1v1h-1zM154 561h6v1h-6zM199 561h3v1h-3zM207 561h4v1h-4zM220 561h1v1h-1zM339 561h3v1h-3zM346 561h2v1h-2zM403 561h1v1h-1zM405 561h1v1h-1zM470 561h2v1h-2zM572 561h3v1h-3zM633 561h1v1h-1zM637 561h4v1h-4zM708 561h1v1h-1zM726 561h2v1h-2zM732 561h5v1h-5zM144 557h6v1h-6zM162 557h1v1h-1zM182 557h3v1h-3zM196 557h1v1h-1zM360 557h2v1h-2zM386 557h2v1h-2zM392 557h2v1h-2zM396 557h2v1h-2zM410 557h1v1h-1zM581 557h2v1h-2zM598 557h7v1h-7zM622 557h2v1h-2zM627 557h3v1h-3zM646 557h2v1h-2zM672 557h3v1h-3zM704 557h1v1h-1zM744 557h2v1h-2zM117 563h2v1h-2zM131 563h2v1h-2zM213 563h4v1h-4zM291 563h2v1h-2zM296 563h2v1h-2zM302 563h4v1h-4zM323 563h2v1h-2zM474 563h13v1h-13zM492 563h3v1h-3zM514 563h3v1h-3zM522 563h8v1h-8zM539 563h3v1h-3zM545 563h1v1h-1zM555 563h1v1h-1zM711 563h2v1h-2zM721 563h2v1h-2zM166 555h2v1h-2zM186 555h1v1h-1zM332 555h3v1h-3zM364 555h1v1h-1zM373 555h1v1h-1zM377 555h8v1h-8zM412 555h1v1h-1zM592 555h4v1h-4zM607 555h2v1h-2zM649 555h2v1h-2zM661 555h2v1h-2zM748 555h3v1h-3zM758 555h2v1h-2zM73 560h8v1h-8zM142 560h1v1h-1zM153 560h1v1h-1zM221 560h2v1h-2zM228 560h1v1h-1zM326 560h1v1h-1zM338 560h1v1h-1zM348 560h3v1h-3zM401 560h2v1h-2zM406 560h2v1h-2zM469 560h1v1h-1zM557 560h1v1h-1zM567 560h5v1h-5zM575 560h2v1h-2zM632 560h1v1h-1zM641 560h2v1h-2zM707 560h1v1h-1zM728 560h4v1h-4zM737 560h3v1h-3zM83 562h2v1h-2zM119 562h12v1h-12zM202 562h5v1h-5zM211 562h2v1h-2zM217 562h3v1h-3zM293 562h3v1h-3zM342 562h4v1h-4zM404 562h1v1h-1zM472 562h2v1h-2zM487 562h5v1h-5zM542 562h3v1h-3zM634 562h3v1h-3zM709 562h2v1h-2zM723 562h3v1h-3zM89 571h1v1h-1zM104 571h6v1h-6zM259 571h2v1h-2zM272 571h2v1h-2zM168 556h14v1h-14zM185 556h1v1h-1zM329 556h3v1h-3zM335 556h1v1h-1zM362 556h2v1h-2zM374 556h3v1h-3zM385 556h1v1h-1zM394 556h2v1h-2zM411 556h1v1h-1zM583 556h9v1h-9zM596 556h2v1h-2zM605 556h2v1h-2zM617 556h1v1h-1zM624 556h3v1h-3zM648 556h1v1h-1zM663 556h9v1h-9zM746 556h2v1h-2zM434 544h11v1h-11zM773 544h1v1h-1zM113 566h1v1h-1zM245 566h2v1h-2zM252 566h2v1h-2zM499 566h2v1h-2zM507 566h2v1h-2zM510 566h1v1h-1zM534 566h1v1h-1zM549 566h2v1h-2zM71 559h2v1h-2zM151 559h2v1h-2zM223 559h1v1h-1zM226 559h2v1h-2zM327 559h1v1h-1zM337 559h1v1h-1zM351 559h2v1h-2zM389 559h1v1h-1zM400 559h1v1h-1zM408 559h1v1h-1zM558 559h1v1h-1zM562 559h5v1h-5zM577 559h2v1h-2zM619 559h1v1h-1zM631 559h1v1h-1zM643 559h2v1h-2zM706 559h1v1h-1zM740 559h2v1h-2zM240 569h2v1h-2zM256 569h2v1h-2zM263 569h7v1h-7zM114 565h1v1h-1zM247 565h2v1h-2zM250 565h2v1h-2zM284 565h3v1h-3zM308 565h13v1h-13zM497 565h2v1h-2zM501 565h2v1h-2zM505 565h2v1h-2zM511 565h2v1h-2zM532 565h2v1h-2zM535 565h2v1h-2zM548 565h1v1h-1zM551 565h2v1h-2zM164 554h2v1h-2zM187 554h1v1h-1zM193 554h2v1h-2zM365 554h2v1h-2zM371 554h2v1h-2zM413 554h1v1h-1zM609 554h1v1h-1zM651 554h2v1h-2zM657 554h4v1h-4zM676 554h1v1h-1zM702 554h1v1h-1zM751 554h2v1h-2zM756 554h2v1h-2zM760 554h1v1h-1zM188 553h1v1h-1zM191 553h2v1h-2zM367 553h2v1h-2zM370 553h1v1h-1zM414 553h2v1h-2zM610 553h2v1h-2zM653 553h4v1h-4zM677 553h1v1h-1zM753 553h3v1h-3zM428 547h2v1h-2zM448 547h1v1h-1zM450 547h2v1h-2zM458 547h2v1h-2zM767 547h2v1h-2zM69 558h2v1h-2zM150 558h1v1h-1zM161 558h1v1h-1zM197 558h1v1h-1zM224 558h2v1h-2zM353 558h7v1h-7zM388 558h1v1h-1zM390 558h2v1h-2zM398 558h2v1h-2zM409 558h1v1h-1zM559 558h3v1h-3zM579 558h2v1h-2zM620 558h2v1h-2zM630 558h1v1h-1zM645 558h1v1h-1zM705 558h1v1h-1zM742 558h2v1h-2zM115 564h2v1h-2zM133 564h7v1h-7zM249 564h1v1h-1zM287 564h4v1h-4zM298 564h4v1h-4zM306 564h2v1h-2zM321 564h2v1h-2zM495 564h2v1h-2zM503 564h2v1h-2zM513 564h1v1h-1zM517 564h5v1h-5zM530 564h2v1h-2zM537 564h2v1h-2zM546 564h2v1h-2zM553 564h2v1h-2zM713 564h8v1h-8zM418 551h3v1h-3zM464 551h1v1h-1zM614 551h1v1h-1zM682 551h5v1h-5zM691 551h2v1h-2zM762 551h1v1h-1zM423 549h3v1h-3zM461 549h2v1h-2zM697 549h3v1h-3zM764 549h1v1h-1zM189 552h2v1h-2zM369 552h1v1h-1zM416 552h2v1h-2zM612 552h2v1h-2zM687 552h4v1h-4zM430 546h2v1h-2zM446 546h2v1h-2zM452 546h2v1h-2zM456 546h2v1h-2zM769 546h2v1h-2zM110 570h1v1h-1zM234 570h6v1h-6zM258 570h1v1h-1zM261 570h2v1h-2zM270 570h2v1h-2zM274 572h3v1h-3zM421 550h2v1h-2zM463 550h1v1h-1zM679 550h3v1h-3zM693 550h4v1h-4zM763 550h1v1h-1zM426 548h2v1h-2zM449 548h1v1h-1zM460 548h1v1h-1zM765 548h2v1h-2zM277 573h3v1h-3zM94 578h6v1h-6zM432 545h2v1h-2zM445 545h1v1h-1zM454 545h2v1h-2zM771 545h2v1h-2zM112 567h1v1h-1zM244 567h1v1h-1zM254 567h1v1h-1zM509 567h1v1h-1zM92 575h1v1h-1zM101 575h1v1h-1zM242 568h2v1h-2zM255 568h1v1h-1zM282 568h1v1h-1zM91 574h1v1h-1zM102 574h1v1h-1z" fill="#fa28f0" shape-rendering="crispEdges"/><text x="63.2" y="26" font-family="Liberation Sans, sans-serif" font-size="12" fill="#ee3050" text-anchor="end" letter-spacing="0.14">1902.03</text><text x="807" y="26" font-family="Liberation Sans, sans-serif" font-size="12" fill="#ee3050" text-anchor="start" letter-spacing="0.14">1902.03</text><text x="63.2" y="84" font-family="Liberation Sans, sans-serif" font-size="12" fill="#ee3050" text-anchor="end" letter-spacing="0.14">1864.33</text><text x="807" y="84" font-family="Liberation Sans, sans-serif" font-size="12" fill="#ee3050" text-anchor="start" letter-spacing="0.14">1864.33</text><text x="63.2" y="143" font-family="Liberation Sans, sans-serif" font-size="12" fill="#ee3050" text-anchor="end" letter-spacing="0.14">1826.62</text><text x="807" y="143" font-family="Liberation Sans, sans-serif" font-size="12" fill="#ee3050" text-anchor="start" letter-spacing="0.14">1826.62</text><text x="63.2" y="202" font-family="Liberation Sans, sans-serif" font-size="12" fill="#ee3050" text-anchor="end" letter-spacing="0.14">1788.92</text><text x="807" y="202" font-family="Liberation Sans, sans-serif" font-size="12" fill="#ee3050" text-anchor="start" letter-spacing="0.14">1788.92</text><text x="63.2" y="260" font-family="Liberation Sans, sans-serif" font-size="12" fill="#ee3050" text-anchor="end" letter-spacing="0.14">1751.22</text><text x="807" y="260" font-family="Liberation Sans, sans-serif" font-size="12" fill="#ee3050" text-anchor="start" letter-spacing="0.14">1751.22</text><text x="63.2" y="319" font-family="Liberation Sans, sans-serif" font-size="12" fill="#ee3050" text-anchor="end" letter-spacing="0.14">1713.51</text><text x="807" y="319" font-family="Liberation Sans, sans-serif" font-size="12" fill="#ee3050" text-anchor="start" letter-spacing="0.14">1713.51</text><text x="63.2" y="399" font-family="Liberation Sans, sans-serif" font-size="12" fill="#ee3050" text-anchor="end" letter-spacing="0.14">22.54</text><text x="806" y="399" font-family="Liberation Sans, sans-serif" font-size="12" fill="#ee3050" text-anchor="start" letter-spacing="0.14">22.54</text><text x="63.2" y="424" font-family="Liberation Sans, sans-serif" font-size="12" fill="#ee3050" text-anchor="end" letter-spacing="0.14">12.21</text><text x="807" y="424" font-family="Liberation Sans, sans-serif" font-size="12" fill="#ee3050" text-anchor="start" letter-spacing="0.14">12.21</text><text x="63.2" y="450" font-family="Liberation Sans, sans-serif" font-size="12" fill="#ee3050" text-anchor="end" letter-spacing="0.14">1.89</text><text x="807" y="450" font-family="Liberation Sans, sans-serif" font-size="12" fill="#ee3050" text-anchor="start" letter-spacing="0.14">1.89</text><text x="63.2" y="475" font-family="Liberation Sans, sans-serif" font-size="12" fill="#ee3050" text-anchor="end" letter-spacing="0.14">-8.43</text><text x="806.6" y="475" font-family="Liberation Sans, sans-serif" font-size="12" fill="#ee3050" text-anchor="start" letter-spacing="0.14">-8.43</text><text x="63.2" y="523" font-family="Liberation Sans, sans-serif" font-size="12" fill="#ee3050" text-anchor="end" letter-spacing="0.14">84.54</text><text x="806" y="523" font-family="Liberation Sans, sans-serif" font-size="12" fill="#ee3050" text-anchor="start" letter-spacing="0.14">84.54</text><text x="63.2" y="551" font-family="Liberation Sans, sans-serif" font-size="12" fill="#ee3050" text-anchor="end" letter-spacing="0.14">60.13</text><text x="806" y="551" font-family="Liberation Sans, sans-serif" font-size="12" fill="#ee3050" text-anchor="start" letter-spacing="0.14">60.13</text><text x="63.2" y="579" font-family="Liberation Sans, sans-serif" font-size="12" fill="#ee3050" text-anchor="end" letter-spacing="0.14">35.72</text><text x="806" y="579" font-family="Liberation Sans, sans-serif" font-size="12" fill="#ee3050" text-anchor="start" letter-spacing="0.14">35.72</text><text x="194.3" y="125" font-family="Liberation Sans, sans-serif" font-size="12" fill="#ee3050" text-anchor="start" font-weight="bold" letter-spacing="0.18">1834.03</text><text x="454.3" y="58" font-family="Liberation Sans, sans-serif" font-size="12" fill="#ee3050" text-anchor="start" font-weight="bold" letter-spacing="0.18">1877.15</text><text x="758.3" y="55" font-family="Liberation Sans, sans-serif" font-size="12" fill="#ee3050" text-anchor="end" font-weight="bold" letter-spacing="0.18">1879.38</text><text x="99.3" y="363" font-family="Liberation Sans, sans-serif" font-size="12" fill="#36cc7a" text-anchor="start" font-weight="bold" letter-spacing="0.18">1690.61</text><text x="284.3" y="315" font-family="Liberation Sans, sans-serif" font-size="12" fill="#36cc7a" text-anchor="start" font-weight="bold" letter-spacing="0.18">1721.76</text><text x="559.3" y="265" font-family="Liberation Sans, sans-serif" font-size="12" fill="#36cc7a" text-anchor="start" font-weight="bold" letter-spacing="0.18">1753.77</text><text x="68.5" y="388" font-family="Liberation Sans, sans-serif" font-size="12" letter-spacing="0.08"><tspan fill="#f0f0f0">MACD(26,12,9) DIFF:12.06</tspan><tspan fill="#dcdc14" dx="7">DEA:5.47</tspan><tspan fill="#e020e0" dx="9">MACD:13.18</tspan></text><text x="68.5" y="512" font-family="Liberation Sans, sans-serif" font-size="12"><tspan fill="#f0f0f0">RSI(6,12,24) RSI1:84.54</tspan><tspan fill="#dcdc14" dx="8.5">RSI2:72.45</tspan><tspan fill="#e020e0" dx="9">RSI3:63.36</tspan></text><rect x="69" y="604" width="1" height="4" fill="#2a2a2a" shape-rendering="crispEdges"/><text x="71.6" y="617" font-family="Liberation Sans, sans-serif" font-size="12" fill="#9e9e9e" text-anchor="start" font-weight="bold" letter-spacing="0.1">2021/08</text><rect x="179" y="604" width="1" height="4" fill="#2a2a2a" shape-rendering="crispEdges"/><text x="181.6" y="617" font-family="Liberation Sans, sans-serif" font-size="12" fill="#9e9e9e" text-anchor="start" font-weight="bold" letter-spacing="0.1">2021/09</text><rect x="289" y="604" width="1" height="4" fill="#2a2a2a" shape-rendering="crispEdges"/><text x="291.6" y="617" font-family="Liberation Sans, sans-serif" font-size="12" fill="#9e9e9e" text-anchor="start" font-weight="bold" letter-spacing="0.1">2021/10</text><rect x="394" y="604" width="1" height="4" fill="#2a2a2a" shape-rendering="crispEdges"/><text x="396.6" y="617" font-family="Liberation Sans, sans-serif" font-size="12" fill="#9e9e9e" text-anchor="start" font-weight="bold" letter-spacing="0.1">2021/11</text><rect x="504" y="604" width="1" height="4" fill="#2a2a2a" shape-rendering="crispEdges"/><text x="506.6" y="617" font-family="Liberation Sans, sans-serif" font-size="12" fill="#9e9e9e" text-anchor="start" font-weight="bold" letter-spacing="0.1">2021/12</text><rect x="619" y="604" width="1" height="4" fill="#2a2a2a" shape-rendering="crispEdges"/><text x="621.6" y="617" font-family="Liberation Sans, sans-serif" font-size="12" fill="#9e9e9e" text-anchor="start" font-weight="bold" letter-spacing="0.1">2022/01</text><rect x="724" y="604" width="1" height="4" fill="#2a2a2a" shape-rendering="crispEdges"/><text x="726.6" y="617" font-family="Liberation Sans, sans-serif" font-size="12" fill="#9e9e9e" text-anchor="start" font-weight="bold" letter-spacing="0.1">2022/02</text><text x="67.5 79.5 91.5 103.5" y="15.3" font-family="Liberation Sans, Noto Sans CJK SC, sans-serif" font-size="13" fill="#f4f4f4" stroke="#f4f4f4" stroke-width="0.2" text-anchor="start">现货黄金</text><text x="117.3" y="14.5" font-family="Liberation Sans, sans-serif" font-size="11" fill="#f5a028" text-anchor="start" >&lt;</text><text x="125 137" y="15.3" font-family="Liberation Sans, Noto Sans CJK SC, sans-serif" font-size="13" fill="#f5a028" stroke="#f5a028" stroke-width="0.18" text-anchor="start">日线</text><text x="150.3" y="14.5" font-family="Liberation Sans, sans-serif" font-size="11" fill="#f5a028" text-anchor="start" >&gt;</text><text x="9.4 22.2" y="621.2" font-family="Liberation Sans, Noto Sans CJK SC, sans-serif" font-size="14" font-weight="bold" fill="#f5a028" text-anchor="start">日线</text><path d="M41 619.3 L45.4 610.4 L49.8 619.3 Z" fill="#f5a028"/><g shape-rendering="crispEdges"><rect x="3" y="502" width="4" height="6" fill="#fff"/><rect x="2" y="503" width="6" height="4" fill="#fff"/><rect x="4" y="503" width="2" height="4" fill="#ff0a0a"/><rect x="3" y="504" width="4" height="2" fill="#ff0a0a"/><rect x="4" y="498" width="1" height="2" fill="#ff0a0a"/><rect x="4" y="510" width="1" height="2" fill="#ff0a0a"/><rect x="10" y="504" width="2" height="1" fill="#ff0a0a"/><rect x="9" y="500" width="1" height="1" fill="#ff0a0a"/><rect x="10" y="499" width="1" height="1" fill="#ff0a0a"/><rect x="9" y="509" width="1" height="1" fill="#ff0a0a"/><rect x="10" y="510" width="1" height="1" fill="#ff0a0a"/><rect x="0" y="500" width="1" height="1" fill="#ff0a0a"/><rect x="0" y="509" width="1" height="1" fill="#ff0a0a"/></g><g shape-rendering="crispEdges" fill="none" stroke="#a4a4a4" stroke-width="1"><rect x="662.5" y="2.5" width="74" height="14" stroke="#8e8e8e"/><rect x="740.5" y="2.5" width="13" height="13"/><rect x="756.5" y="2.5" width="13" height="13"/><rect x="772.5" y="2.5" width="13" height="13"/><rect x="788.5" y="2.5" width="13" height="13"/></g><text x="669.5 681.5 693.5 705.5" y="14.5" font-family="Liberation Sans, Noto Sans CJK SC, sans-serif" font-size="12" fill="#8c8c8c" text-anchor="start">全部主题</text><path d="M719 6 L727.5 6 L723.25 13.8 Z" fill="#8c8c8c"/><g fill="#b4b4b4" shape-rendering="crispEdges"><rect x="746" y="8" width="2" height="2"/><rect x="742" y="8" width="3" height="2"/><rect x="749" y="8" width="3" height="2"/><rect x="746" y="4" width="2" height="3"/><rect x="746" y="11" width="2" height="3"/></g><g fill="#b4b4b4" shape-rendering="crispEdges"><rect x="759" y="4" width="1" height="10"/><rect x="758" y="5" width="3" height="1"/><rect x="758" y="12" width="10" height="1"/><rect x="766" y="11" width="1" height="3"/></g><g fill="#b4b4b4"><rect x="762" y="5" width="1" height="6" shape-rendering="crispEdges"/><path d="M763.2 8 L766.2 5 L766.2 11 Z"/></g><g fill="#b4b4b4" shape-rendering="crispEdges"><rect x="775" y="4" width="1" height="10"/><rect x="774" y="5" width="3" height="1"/><rect x="774" y="12" width="10" height="1"/><rect x="782" y="11" width="1" height="3"/></g><g fill="#b4b4b4"><path d="M778 4.8 L783 8.2 L778 11.6 Z"/></g><g stroke="#b4b4b4" fill="none" shape-rendering="crispEdges"><rect x="790.5" y="4.5" width="3" height="9"/></g><g fill="#b4b4b4"><rect x="792" y="8" width="5" height="1" shape-rendering="crispEdges"/><path d="M795.8 5.8 L799.2 8.5 L795.8 11.2 Z"/></g></svg></body></html>
